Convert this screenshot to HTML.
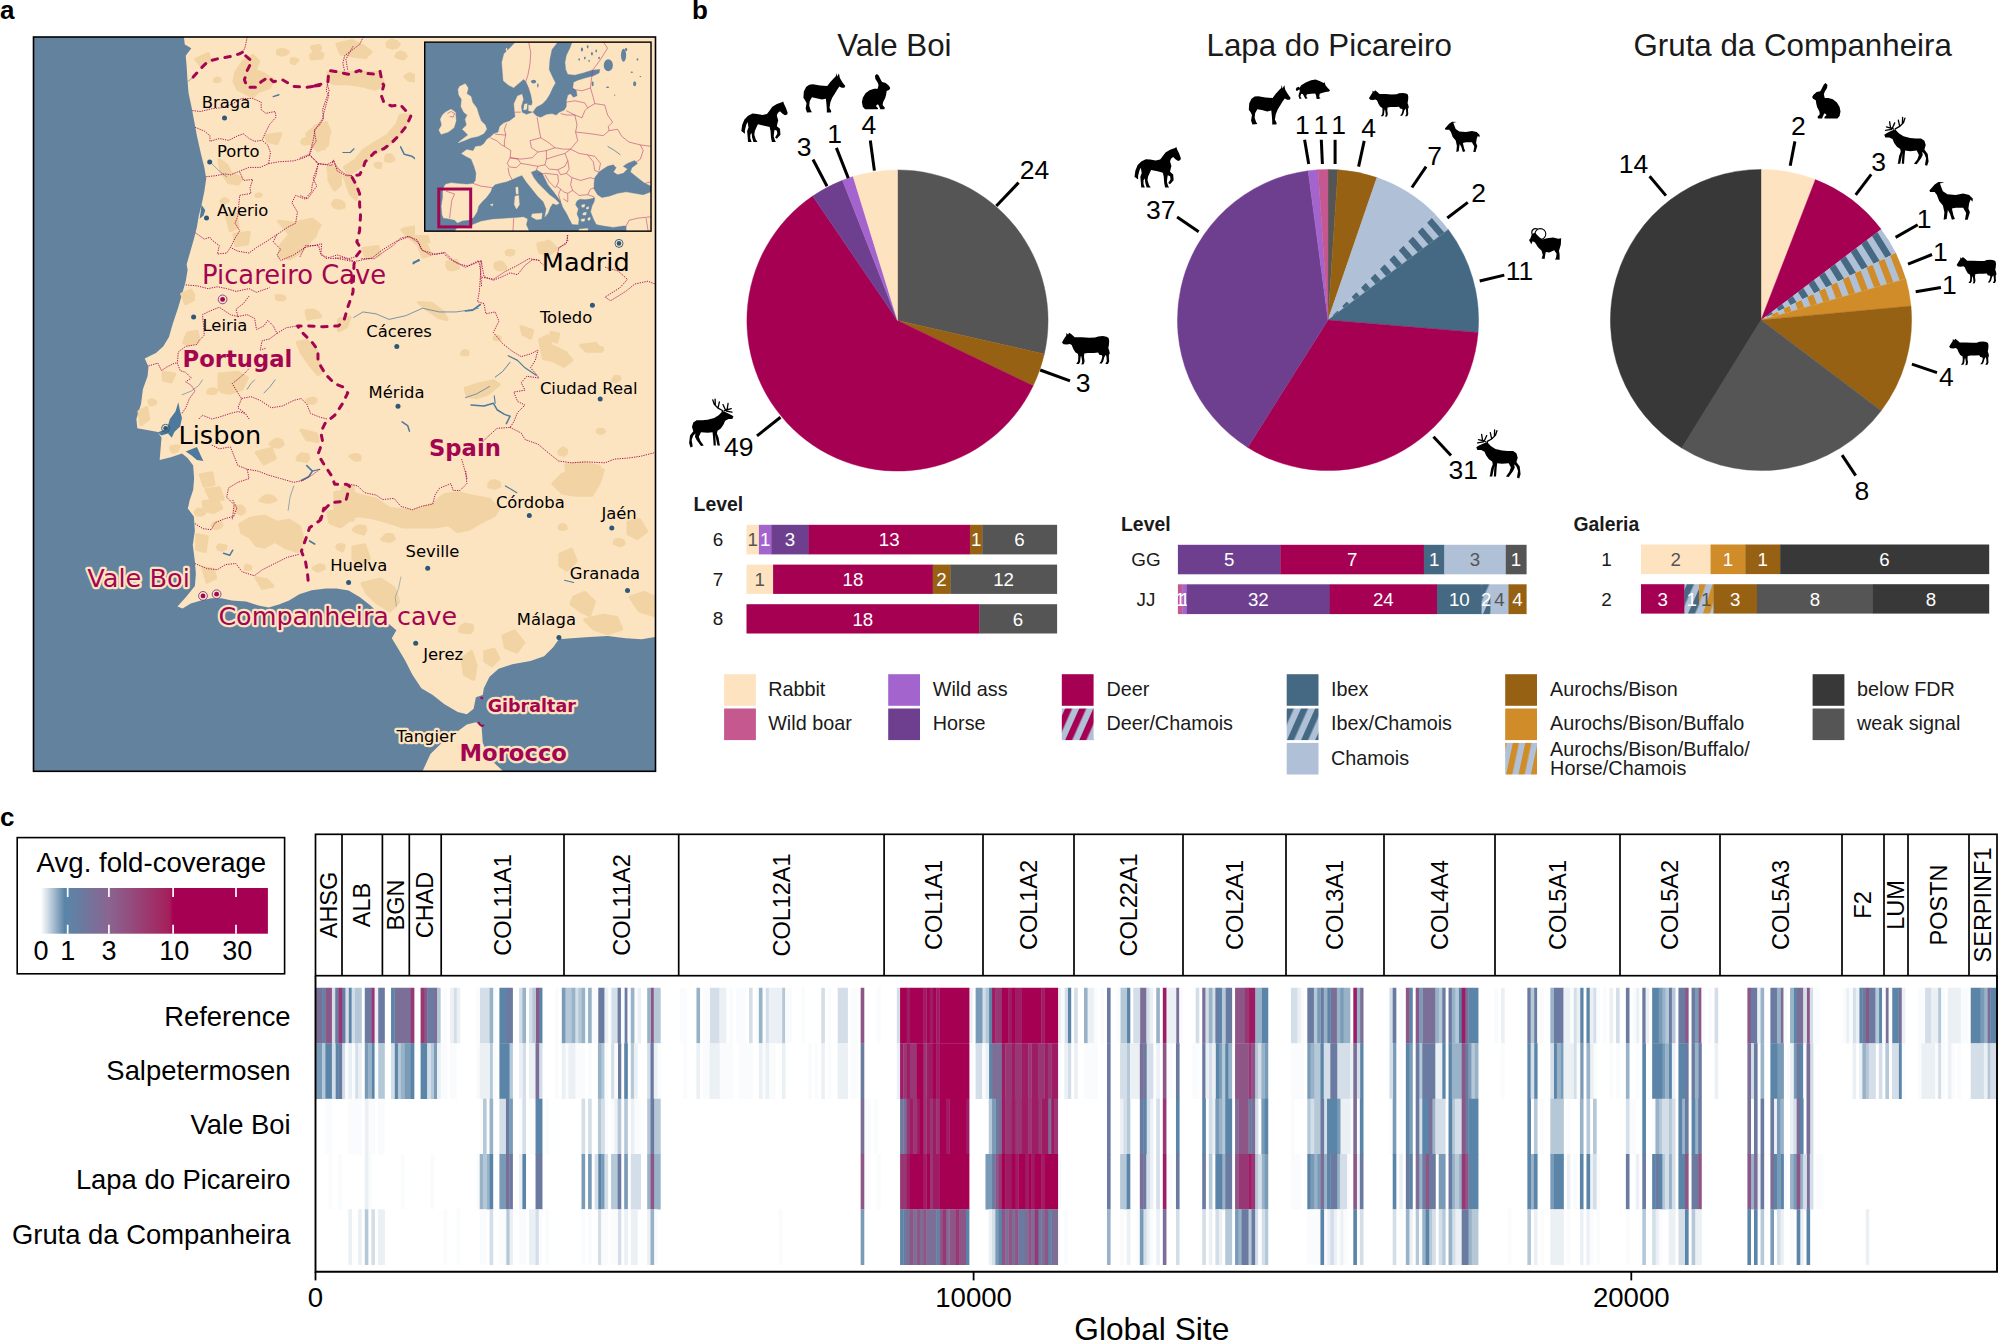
<!DOCTYPE html>
<html lang="en"><head><meta charset="utf-8"><title>Figure</title>
<style>html,body{margin:0;padding:0;background:#fff}svg{display:block}text{font-kerning:normal}</style></head>
<body><svg width="1999" height="1342" viewBox="0 0 1999 1342">
<rect width="1999" height="1342" fill="#fff"/>
<text x="0" y="19" font-size="26" font-weight="bold" font-family='"Liberation Sans", Arial, sans-serif'>a</text>
<text x="692" y="19" font-size="26" font-weight="bold" font-family='"Liberation Sans", Arial, sans-serif'>b</text>
<clipPath id="mapclip"><rect x="33.5" y="37" width="622" height="734.3"/></clipPath>
<g clip-path="url(#mapclip)">
<rect x="33.5" y="37" width="622" height="734.3" fill="#62829E"/>
<path d="M655.5 37L183.9 37L184.8 44.45L191.32 48.18L185.73 55.63L186.66 66.8L187.59 81.7L188.52 92.88L191.32 105.91L194.11 120.81L196.9 135.71L200.63 152.48L204.35 167.38L206.22 178.55L204.35 191.59L201.56 204.63L198.77 215.8L196.9 226.98L194.11 238.15L190.38 251.19L186.66 264.23L187.59 270L185.73 281.18L182 294.21L178.28 307.25L172.69 324.01L168.97 337.05L163.38 346.36L155.93 352.88L144.75 358.47L148.48 366.85L147.55 376.17L142.89 389.2L141.03 404.1L136.37 419L137.3 428.32L148.48 430.18L157.79 432.04L161.52 437.63L160.58 448.8L159.65 459.98L170.83 457.19L182 453.46L187.59 458.12L193.18 465.57L194.11 478.6L193.18 489.78L189.45 500.96L187.59 510.27L190.75 500L187.68 508.2L193.83 516.39L194.85 530.73L192.8 545.07L194.85 561.46L195.88 573.76L194.85 586.05L186.66 596.29L177.44 606.54L182.56 608.58L190.75 603.46L201 600.39L211.24 598.34L221.49 598.34L231.73 600.39L246.07 601.41L258.36 605.51L268.61 607.56L278.85 604.49L289.1 600.39L299.34 594.24L311.63 590.15L325.97 588.51L340.31 588.51L335 588.18L348.64 590.45L360 597.27L371.36 606.36L380.45 615.45L389.55 624.55L396.36 630.23L391.82 638.18L398.64 649.55L405.45 660.91L412.27 674.55L421.36 688.18L432.73 695L444.09 704.09L457.73 712.05L466.82 714.32L473.64 708.64L475.91 697.27L482.73 695L483.86 688.18L489.55 676.82L498.64 668.86L512.27 664.32L530.45 660.91L544.09 656.36L553.18 647.27L558.86 639.32L571.36 638.18L589.55 637.05L607.73 635.91L625.91 638.18L641.82 639.32L655 637.05L655.5 637Z" fill="#FDE4C0"/>
<path d="M422.5 771.14L430.45 754.09L441.82 742.73L457.73 731.36L466.82 724.55L475.91 722.27L481.59 726.82L482.73 742.73L489.55 758.64L503.18 771.14Z" fill="#FDE4C0"/>
<path d="M236.02 72.39L243.47 61.21L252.78 55.63L258.37 61.21L254.64 70.53L263.96 74.25L273.27 79.84L269.54 87.29L258.37 91.01L252.78 96.6L245.33 92.88L237.88 89.15L234.15 81.7ZM278.86 221.39L293.76 223.25L312.38 219.53L319.83 225.12L312.38 238.15L301.21 251.19L290.03 258.64L278.86 256.78L280.72 245.6L290.03 234.43ZM329.14 167.38L338.46 171.1L340.32 184.14L334.73 189.73L329.14 180.42ZM265.82 135.71L280.72 133.85L276.99 143.17L267.68 141.3ZM306.79 133.85L316.11 126.4L329.14 130.13L327.28 145.03L317.97 150.62L310.52 143.17ZM219.25 159.93L226.7 165.52L230.43 172.97L241.6 178.55L237.88 184.14L228.57 182.28L221.12 171.1ZM226.7 215.8L236.02 213.94L237.88 226.98L230.43 230.7ZM234.15 234.43L249.06 232.57L247.19 243.74L236.02 245.6ZM195.97 59.35L208.08 53.76L209.94 61.21L200.63 64.94ZM327.94 72.39L380.09 72.39L383.81 85.43L374.5 89.15L361.46 85.43L348.43 83.56L333.53 83.56L327.94 79.84ZM400.58 115.23L409.89 115.23L404.3 128.26L393.13 141.3L381.95 148.75L370.78 156.2L361.46 165.52L348.43 174.83L344.7 167.38L355.88 159.93L363.33 150.62L374.5 143.17L387.54 135.71L396.85 124.54ZM327.94 167.38L335.39 165.52L340.98 174.83L339.11 186L333.53 187.87L329.8 178.55ZM344.7 176.69L352.15 178.55L357.74 191.59L355.88 199.04L350.29 193.45ZM314.9 126.4L326.08 122.68L329.8 131.99L324.21 148.75L316.76 145.03ZM300 223.25L311.18 219.53L318.63 225.12L314.9 236.29L305.59 243.74L300 241.88ZM404.3 228.84L415.48 226.98L426.65 234.43L428.52 241.88L419.2 240.02L408.03 236.29ZM337.25 44.45L352.15 40.73L363.33 46.31L370.78 51.9L365.19 57.49L352.15 55.63L340.98 53.76ZM538.41 243.74L549.58 241.88L555.17 249.33L547.72 254.92L540.27 251.19ZM419.2 247.47L426.65 245.6L430.38 254.92L422.93 256.78ZM447.14 262.37L456.45 260.51L458.32 267.96L450.87 269.82ZM182 294.21L191.32 290.49L193.18 299.8L185.73 303.53ZM187.59 333.33L196.9 331.46L198.77 340.78L189.45 344.5L183.87 342.64ZM297.48 342.64L306.79 340.78L316.11 350.09L317.97 361.26L323.56 370.58L317.97 374.3L308.66 363.13L301.21 351.95ZM219.25 374.3L237.88 372.44L247.19 378.03L241.6 389.2L230.43 392.93L219.25 389.2ZM163.38 372.44L174.55 374.3L170.83 381.75L163.38 379.89ZM139.17 411.55L146.62 407.83L148.48 419L141.03 424.59ZM256.51 452.53L271.41 448.8L275.13 458.12L263.96 463.7ZM200.63 474.88L211.8 473.02L213.67 484.19L204.35 486.06ZM206.22 489.78L219.25 487.92L222.98 499.09L211.8 500.96ZM301.21 430.18L316.11 433.9L317.97 441.35L306.79 439.49ZM342.18 487.92L352.99 486.06L352.99 519.95L347.77 519.95L345.91 502.82ZM539.88 339.89L547.33 336.17L551.06 345.48L565.96 352.93L571.54 360.38L564.09 365.97L552.92 360.38L543.6 358.52ZM521.25 326.85L532.43 330.58L530.57 338.03L523.12 334.3ZM551.06 332.44L558.51 334.3L556.64 341.75L551.06 339.89ZM580.86 345.48L595.76 343.62L601.34 351.07L586.44 351.07ZM465.38 388.32L476.55 384.59L493.32 380.87L498.9 384.59L487.73 393.9L476.55 397.63L467.24 395.77ZM418.81 302.64L431.85 303.57L443.03 311.95L446.75 319.4L439.3 317.54L428.13 310.09ZM402.05 230L424.4 230L428.13 239.31L420.68 246.76L409.5 237.45ZM538.02 244.9L549.19 241.18L556.64 248.63L549.19 254.21L539.88 252.35ZM565.96 464.68L582.72 462.82L599.48 466.54L595.76 479.95L567.82 479.95ZM446.75 265.39L456.07 261.66L457.93 267.25L448.62 269.11ZM362.94 248.63L377.84 246.76L379.7 254.21L366.66 257.94ZM338.73 319.4L349.9 317.54L346.18 326.85L338.73 330.58ZM239.92 524.59L250.17 518.44L264.51 516.39L276.8 522.54L289.1 520.49L299.34 526.63L303.44 540.98L297.29 551.22L285 547.12L274.75 540.98L264.51 547.12L256.31 545.07L250.17 536.88L241.97 532.78ZM203.05 502.05L217.39 500L221.49 508.2L213.29 512.29L205.1 510.24ZM196.9 534.83L207.14 536.88L205.1 551.22L196.9 549.17ZM203.05 567.61L213.29 569.66L215.34 577.85L207.14 581.95ZM256.31 577.85L266.56 579.9L272.7 586.05L262.46 588.1ZM328.02 512.29L340.31 510.24L348.51 520.49L340.31 526.63L330.07 522.54ZM335 492.73L348.64 490.45L357.73 495L375.91 499.55L389.55 508.64L412.27 510.91L432.73 504.09L444.09 495L457.73 492.73L471.36 496.14L489.55 499.55L498.64 508.64L494.09 515.45L480.45 522.27L469.09 529.09L457.73 531.36L448.64 524.55L435 526.82L421.36 526.82L403.18 526.82L389.55 522.27L373.64 517.73L357.73 515.45L344.09 520L335 522.27ZM553.18 483.64L562.27 474.55L575.91 470L603.18 470L598.64 483.64L591.82 495L575.91 495L562.27 492.73ZM560 554.09L571.36 549.55L575.91 560.91L566.82 570L560 565.45ZM573.64 597.27L585 592.73L594.09 601.82L589.55 615.45L580.45 610.91L571.36 604.09ZM585 620L603.18 615.45L616.82 617.73L621.36 629.09L607.73 633.64L594.09 629.09ZM630.45 597.27L644.09 592.73L655 597.27L655 615.45L639.55 610.91ZM503.18 635.91L514.55 631.36L523.64 642.73L516.82 651.82L505.45 647.27ZM485 651.82L494.09 649.55L498.64 658.64L491.82 665.45L485 660.91ZM462.27 658.64L471.36 651.82L475.91 665.45L473.64 679.09L464.55 674.55ZM362.27 583.64L380.45 579.09L394.09 588.18L398.64 601.82L389.55 610.91L375.91 601.82L366.82 592.73ZM353.18 547.27L364.55 545L369.09 558.64L360 565.45L353.18 558.64ZM628.18 522.27L639.55 520L646.36 531.36L637.27 538.18L628.18 533.64ZM187.53 298.54L183.53 296.88L186.33 294.44L189.53 292.46L193.45 294.09L193.33 296.68L191.79 299.3ZM284.84 298.57L282.08 299.81L279.26 299.82L276.6 298.51L276.58 295.78L280.76 295.78L283.6 296.5ZM306.44 310.8L313.25 310.28L317.68 312.63L320.49 316.59L313.89 317.57L307.96 319.07L306.66 315.06ZM231.67 391.74L227.22 392.84L221.37 391.37L223.81 387.71L227.07 384.84L233.11 385.62L234.67 389.24ZM208.74 390.46L210.63 389.16L213.6 389.07L216.68 390.59L214.9 392.9L211.52 393.56L207.95 392.75ZM149.43 402.78L148.96 400.81L151.94 399.86L154.25 401.03L155.64 402.58L153.88 404.11L150.69 404.68ZM174.05 446.37L178.55 446.15L177.9 449L176.85 451.05L172.95 451.93L171.32 449.57L170.79 447.35ZM282.93 444.17L279.67 446.98L274.37 446.52L270.29 444.1L273.25 441.22L277.13 439.24L281.65 440.94ZM298.35 456.47L301.91 453.88L307.76 454.72L308.5 458.3L306.62 461.29L301.98 460.58L297.32 459.66ZM235.36 506.57L241.38 506.14L244.1 509.01L244.31 511.77L240.96 514.11L237.26 512.16L234.35 510.18ZM270.16 501.89L265.9 501.94L260.25 500.52L263.51 497.24L267.31 495.53L272.24 496.43L275.77 499.92ZM204.37 513.46L201.39 515.01L196.96 514.75L195.32 511.94L197.49 509.29L201.69 509.79L204.5 511.11ZM308.92 403.11L306.68 400.34L310.26 398.64L313.2 398.19L315.71 399.38L315.68 401.42L313.32 403.12ZM213.88 523.18L217 522.46L220.64 522.49L221.83 524.9L220.1 527.33L215.34 528.37L212.25 525.75ZM217.58 546.88L219.27 544.95L222.31 545.53L225.77 546.11L225.16 548.55L222.07 549.99L218.47 549.12ZM245.46 568.98L245.45 567.23L246.39 565.33L249.26 566.08L250.7 567.22L250.46 568.79L248.13 569.45ZM338.45 549.01L337 547.35L337.64 545.4L340.74 544.81L344.09 545.62L343.53 547.85L342.28 550.76ZM316.97 566.02L320 564.98L323.37 565.95L324.12 568.36L321.29 569.79L317.03 570.96L313.55 568.35ZM353.48 530L356.13 527.08L360.05 525.86L364.79 526.69L365.59 529.94L363.47 533.81L357.65 532.14ZM394.14 538.82L390.04 541.22L385.76 540.68L381.98 539.24L384.14 536.83L386.84 534.68L392.4 535.11ZM471.76 625.41L472.54 629.22L470.49 632.27L465.45 632.39L459.58 631.12L460.73 627.04L465.33 624.1ZM617.49 544.6L614.32 543.26L615.13 540.49L619.34 539.56L623.02 540.92L623.77 543.57L620.9 545.48ZM562.87 529.41L559.76 528.54L559.44 526.68L560.68 525.31L563.31 524.69L565.47 526.02L566.2 528.28ZM499.11 482.73L499.69 486.2L494.46 488.15L488.89 486.59L489.23 483.09L491.96 481.14L495.82 481ZM501.95 269.43L498.22 269.83L495.26 267.64L496.97 264.82L501.26 264.47L504.88 265.6L505.73 268.37ZM513.23 253.54L510.67 255L507.4 254.17L506.25 252.15L508.26 250.61L510.88 250.74L513.74 251.45ZM597.92 350.96L596.08 349.54L597.65 348.13L599.65 347.61L602.28 347.96L602.38 349.76L600.26 350.45ZM618.05 380.19L615.73 381.65L612.87 380.33L613.82 378.44L614.97 376.58L618.59 376.68L619.87 378.77ZM559.55 454L558.84 451.74L560.22 450.16L563.26 448.03L566.5 450.18L566.36 452.78L563.72 455.12ZM597.6 432.22L597.8 429.97L600.82 429.45L603.16 429.79L604.23 431.21L603 432.58L600.46 433.32ZM355.24 459.91L352.72 458.48L350.14 456.24L353.96 454.85L357.58 454.82L360.08 456.74L359.62 459.6ZM461.7 354.21L462.32 352.11L464.46 350.84L467.34 351.18L467.68 352.85L467.49 354.46L464.92 354.6ZM500.2 338.08L498.31 339.1L496.4 339.65L494.28 338.83L494.59 337.23L496.57 336.55L498.77 336.71ZM311.86 47.04L315.7 46.16L319.24 45.7L320.46 47.93L319.42 49.91L316.13 51.47L312.98 49.66ZM387.16 42.9L391.15 40.17L396.18 41.65L399.04 44.21L396.85 47.08L392.23 47.97L387.72 46.39ZM396.26 56.48L396.97 54.06L400.15 52.02L404.22 53.45L405.99 56.14L403.41 58.76L399.21 57.86ZM405.16 76.33L409.76 73.87L414.15 75.72L415.95 77.77L415.38 80.47L411.16 80.53L407.75 79.46ZM393.79 159.45L390.51 161.33L385.91 160.81L385.94 158.04L386.31 155.53L390.54 155.03L392.5 157.13ZM380.77 164.03L380.38 165.74L379.91 167.42L377.3 166.99L375.7 166L375.37 164.25L378.02 163.46ZM307.82 143.6L304.09 144L301.83 142.13L302.57 140.08L305.17 138.81L309.17 139.03L308.65 141.53ZM495.68 263.42L498.38 262.56L501.19 262.3L503.56 263.93L502.13 266.05L498.97 266.07L494.89 266ZM509.28 251.27L510.11 252.61L510.29 253.59L508.93 254.04L506.95 254.34L506.71 253.04L507.57 252.2ZM277.66 53.58L277.7 50.55L281.6 49.58L284.62 50.12L288.17 51.75L285.61 54.13L281.67 55.04ZM295.78 62.03L294.17 63.57L291.52 62.64L291.35 61.04L291.51 58.92L294.95 59.04L297.49 60.38ZM321.96 57.8L316.7 58.17L311.47 58.81L310.75 55.36L313.32 52.99L317.8 52.13L322.65 53.99ZM217.11 81.45L214.54 80.99L214.78 79.25L216.56 78.33L218.78 78.42L219.75 79.67L219.3 81.06ZM223.74 202.63L221.14 201.6L222.49 199.84L224.64 198.78L226.81 199.77L227.8 201.22L225.97 202.19ZM258.36 196.3L256.38 196.33L256.14 194.99L257.6 194.29L259.32 194.06L261.12 194.92L259.66 195.98ZM340.67 201.55L343.81 203.78L343.77 207.24L338.55 207.93L334.18 206.9L332.4 203.82L335.21 200.51Z" fill="#F2D3A3" stroke="#F2D3A3" stroke-width="3.5" stroke-linejoin="round"/>
<path d="M157.79 432.41L167.1 428.32L169.9 419L175.48 411.55L178.28 402.24L180.14 411.55L182 418.07L180.14 426.45L174.55 431.67L171.76 437.63L168.03 433.53L161.52 435.39Z" fill="#4D7A9C"/>
<path d="M185.73 451.6L196.9 446.94L201.56 457.19L203.42 460.91L196.9 459.98L191.32 455.32Z" fill="#4D7A9C"/>
<path d="M201.56 204.63L205.29 210.22L203.42 215.8L199.7 218.6L200.63 212.08Z" fill="#4D7A9C"/>
<path d="M353.63 317.54L362.94 311.95L375.98 313.81L389.01 319.4L405.78 315.68L422.54 308.23L439.3 311.95L456.07 311.95L469.1 310.09L478.42 308.23" fill="none" stroke="#4D7A9C" stroke-width="0.75" stroke-linecap="round" stroke-linejoin="round"/>
<path d="M465.38 311.02L472.83 310.09L480.28 304.5" fill="none" stroke="#4D7A9C" stroke-width="1.65" stroke-linecap="round" stroke-linejoin="round"/>
<path d="M508.22 355.72L517.53 360.38L524.98 367.83L536.15 375.28" fill="none" stroke="#4D7A9C" stroke-width="1.2" stroke-linecap="round" stroke-linejoin="round"/>
<path d="M510.08 362.24L502.63 371.55L495.18 377.14" fill="none" stroke="#4D7A9C" stroke-width="0.9" stroke-linecap="round" stroke-linejoin="round"/>
<path d="M465.38 397.63L476.55 393.9L489.59 386.45" fill="none" stroke="#4D7A9C" stroke-width="0.75" stroke-linecap="round" stroke-linejoin="round"/>
<path d="M470.97 405.08L484 406.01L493.32 403.22L497.04 409.74L504.49 414.39L510.08 416.25L506.35 423.7" fill="none" stroke="#4D7A9C" stroke-width="1.5" stroke-linecap="round" stroke-linejoin="round"/>
<path d="M494.25 395.77L495.18 403.22" fill="none" stroke="#4D7A9C" stroke-width="1.12" stroke-linecap="round" stroke-linejoin="round"/>
<path d="M413.23 263.53L418.81 259.8" fill="none" stroke="#4D7A9C" stroke-width="1.65" stroke-linecap="round" stroke-linejoin="round"/>
<path d="M402.05 421.84L407.64 425.57L409.5 431.15" fill="none" stroke="#4D7A9C" stroke-width="1.5" stroke-linecap="round" stroke-linejoin="round"/>
<path d="M306.79 465.57L312.38 471.15L308.66 476.74L301.21 480.47" fill="none" stroke="#4D7A9C" stroke-width="1.65" stroke-linecap="round" stroke-linejoin="round"/>
<path d="M312.38 471.15L319.83 469.29" fill="none" stroke="#4D7A9C" stroke-width="1.12" stroke-linecap="round" stroke-linejoin="round"/>
<path d="M293.76 486.06L290.03 497.23L288.17 510.27" fill="none" stroke="#4D7A9C" stroke-width="0.6" stroke-linecap="round" stroke-linejoin="round"/>
<path d="M182 394.79L191.32 391.07L198.77 385.48L202.49 379.89" fill="none" stroke="#4D7A9C" stroke-width="0.6" stroke-linecap="round" stroke-linejoin="round"/>
<path d="M247.19 389.2L250.92 383.62L254.64 379.89" fill="none" stroke="#4D7A9C" stroke-width="0.75" stroke-linecap="round" stroke-linejoin="round"/>
<path d="M263.96 392.93L269.54 387.34L275.13 379.89" fill="none" stroke="#4D7A9C" stroke-width="0.75" stroke-linecap="round" stroke-linejoin="round"/>
<path d="M400.58 146.89L404.3 154.34L411.75 156.2L419.2 161.79" fill="none" stroke="#4D7A9C" stroke-width="1.5" stroke-linecap="round" stroke-linejoin="round"/>
<path d="M413.62 262.37L419.2 260.51" fill="none" stroke="#4D7A9C" stroke-width="1.65" stroke-linecap="round" stroke-linejoin="round"/>
<path d="M342.84 152.48L350.29 152.48L354.01 148.75" fill="none" stroke="#4D7A9C" stroke-width="1.12" stroke-linecap="round" stroke-linejoin="round"/>
<path d="M187.59 81.7L196.9 74.25" fill="none" stroke="#4D7A9C" stroke-width="0.6" stroke-linecap="round" stroke-linejoin="round"/>
<path d="M209.94 161.79L219.25 171.1L226.7 176.69" fill="none" stroke="#4D7A9C" stroke-width="0.6" stroke-linecap="round" stroke-linejoin="round"/>
<path d="M273.27 96.6L278.86 94.74" fill="none" stroke="#4D7A9C" stroke-width="1.5" stroke-linecap="round" stroke-linejoin="round"/>
<path d="M505.45 485.91L516.82 492.73" fill="none" stroke="#4D7A9C" stroke-width="1.12" stroke-linecap="round" stroke-linejoin="round"/>
<path d="M396.36 606.36L395.23 597.27L398.64 588.18L400.91 576.82" fill="none" stroke="#4D7A9C" stroke-width="0.45" stroke-linecap="round" stroke-linejoin="round"/>
<path d="M564.55 580.23L573.64 582.5" fill="none" stroke="#4D7A9C" stroke-width="1.12" stroke-linecap="round" stroke-linejoin="round"/>
<path d="M223.53 553.27L229.68 555.32L232.75 550.19" fill="none" stroke="#4D7A9C" stroke-width="1.5" stroke-linecap="round" stroke-linejoin="round"/>
<path d="M309.58 540.98L314.7 544.05" fill="none" stroke="#4D7A9C" stroke-width="1.65" stroke-linecap="round" stroke-linejoin="round"/>
<path d="M192.25 110.57L200.63 111.5L211.8 108.71L221.12 107.78L232.29 104.05L241.6 98.46L252.78 98.46L261.16 102.19L261.16 109.64L265.82 113.36L275.13 111.5L276.06 117.09L269.54 124.54L264.89 133.85L262.09 140.37L267.68 145.03L270.47 152.48L268.61 163.65M195.04 127.33L204.35 131.06L209.94 135.71L209.94 141.3L219.25 138.51L228.57 140.37L237.88 135.71L243.47 133.85L249.06 138.51L254.64 141.3L262.09 140.37M206.22 176.69L215.53 175.76L224.84 173.9L230.43 174.83L239.74 171.1L249.06 167.38L260.23 167.38L268.61 163.65L278.86 161.79L293.76 160.86L303.07 158.07L309.59 155.27L312.38 146.89L316.11 141.3L314.24 130.13L319.83 124.54L323.56 118.95L322.63 109.64L326.35 98.46L329.14 91.01L327.28 83.56M239.74 172.03L243.47 180.42L252.78 179.48L249.99 187.87L250.92 193.45L239.74 195.32L238.81 204.63L237.88 215.8L235.09 223.25L239.74 230.7L235.09 238.15L230.43 247.47L226.7 253.06L217.39 253.99L219.25 245.6L211.8 240.02L209.94 237.22L204.35 239.09L195.04 232.57M309.59 155.27L317.97 163.65L327.28 164.58L333.8 160.86L336.59 167.38L345.91 174.83L352.99 175.76M317.97 163.65L316.11 174.83L312.38 184.14L311.45 191.59L304.93 199.04L295.62 195.32L291.89 202.77L297.48 212.08L295.62 223.25L288.17 226.98L276.99 234.43L265.82 241.88L256.51 247.47L249.06 253.06L237.88 251.19L230.43 247.47M276.99 234.43L273.27 241.88L280.72 249.33L276.99 254.92L280.72 260.51L293.76 254.92L304.93 247.47L321.69 243.74L320.76 254.92L331.01 258.64L342.18 257.71L352.99 260.51M247.19 37L245.33 46.31L243.47 50.97M352.99 46.31L345.91 59.35L347.77 70.53M185.73 284.9L196.9 285.83L208.08 288.63L217.39 286.76L226.7 288.63L236.02 291.42L249.06 288.63L256.51 292.35L269.54 287.69M249.06 296.08L243.47 303.53L236.02 309.11L237.88 316.56L230.43 314.7L219.25 307.25L209.94 310.98L202.49 314.7L203.42 324.01L204.35 335.19L198.77 340.78L196.9 344.5L185.73 346.36L178.28 351.95L177.35 363.13L180.14 370.58L185.73 372.44L191.32 378.03L185.73 381.75L191.32 385.48L195.04 391.07L189.45 398.52L185.73 407.83L182 413.42M237.88 316.56L247.19 314.7L254.64 318.43L256.51 329.6L263.96 325.88L267.68 320.29L273.27 325.88L276.99 333.33L269.54 338.91L262.09 340.78L260.23 350.09L265.82 348.23M276.99 333.33L286.31 327.74L297.48 325.88M148.48 365.92L157.79 363.13L161.52 370.58L167.1 366.85L174.55 363.13L177.35 363.13M249.06 368.71L241.6 376.17L232.29 383.62L237.88 392.93L241.6 398.52L237.88 407.83L245.33 413.42L249.06 419M241.6 398.52L250.92 396.65L260.23 400.38L271.41 407.83L282.58 405.97L293.76 400.38L301.21 398.52L306.79 404.1L310.52 413.42L319.83 417.14L327.28 419M198.77 419L202.49 415.28L211.8 419L219.25 417.14L230.43 413.42L237.88 411.55L245.33 413.42M211.8 445.08L219.25 448.8L230.43 446.94L234.15 456.25L237.88 465.57L247.19 469.29L258.37 471.15L267.68 474.88L280.72 478.6L293.76 482.33L303.07 480.47L312.38 474.88L319.83 469.29M247.19 469.29L249.06 478.6L237.88 482.33L228.57 487.92L226.7 497.23L234.15 504.68L232.29 519.95M363.33 37L359.6 44.45L344.7 55.63L342.84 63.08L344.7 71.46M327.94 81.7L326.08 91.01L328.87 94.74L324.21 111.5L322.35 118.95L314.9 130.13L313.04 141.3L309.31 154.34L300 158.07M309.31 154.34L318.63 163.65L331.66 165.52L333.53 159.93L337.25 171.1L346.56 175.76L351.22 175.76M318.63 163.65L313.04 178.55L316.76 186L307.45 199.04L300 195.32M300 256.78L305.59 245.6L318.63 245.6L320.49 253.06L326.08 258.64L337.25 254.92L348.43 258.64L355.88 256.78M361.46 258.64L374.5 258.64L381.95 253.06L393.13 245.6L400.58 238.15L408.03 236.29L417.34 240.02L421.07 249.33L430.38 254.92L443.42 253.06L449 258.64L460.18 264.23L467.63 266.09L478.8 260.51L480.67 271.68L481.6 286.95M481.6 277.27L493.7 279.13L504.88 271.68L516.06 266.09L529.09 258.64L540.27 260.51M568.21 232.57L566.34 243.74L558.89 247.47L557.03 256.78M335 257.94L353.63 261.66L372.25 257.94L381.56 250.49L396.46 241.18L409.5 236.52L418.81 243.04L422.54 250.49L435.58 254.21L444.89 252.35L454.2 261.66L465.38 267.25L474.69 263.53L481.21 260.73L480.28 278.43L479.35 291.46L477.48 301.71L484 303.57L485.87 313.81L495.18 311.95L498.9 321.26L493.32 332.44L502.63 343.62L511.94 351.07L521.25 356.65L530.57 353.86L538.02 350.13L535.22 360.38L530.57 367.83L537.09 375.28L538.95 378.07L526.84 376.21L521.25 382.73L524.98 390.18L513.8 392.04L517.53 401.35L524.98 405.08L517.53 412.53L513.8 421.84L510.08 427.43L497.04 428.36L487.73 436.74L480.28 444.19M481.21 260.73L484 276.56L493.32 280.29L502.63 276.56L510.08 272.84L517.53 274.7L524.98 265.39L532.43 259.8L538.02 259.8L543.6 265.39M558.51 248.63L567.82 241.18L566.89 231.86M605.07 267.25L618.11 270.98L627.42 279.36L619.97 287.74L605.07 297.05L610.66 300.78L625.56 291.46L634.87 284.01L647.91 281.22L654.99 284.01M510.08 427.43L521.25 433.02L524.98 439.54L538.02 444.19L549.19 453.51L558.51 460.96L571.54 462.82L586.44 461.89L605.07 462.82L614.38 459.09L627.42 458.16L640.46 456.3L654.99 452.57M461.65 459.09L465.38 472.13L467.24 479.95M194.85 563.51L207.14 568.63L217.39 569.66L225.58 564.54L235.83 563.51L241.97 571.71L254.27 575.8L262.46 569.66L274.75 563.51L287.05 557.37L299.34 554.29M194.85 523.56L203.05 528.68L211.24 529.71L215.34 522.54L225.58 518.44L233.78 516.39L236.85 508.2L232.75 500M346.36 483.64L357.73 485.91L364.55 492.73L375.91 495L382.73 499.55L394.09 498.41L400.91 506.36L412.27 509.77L421.36 506.36L432.73 504.09L435 495L439.55 488.18L450.91 483.64L453.18 490.45L460 490.45L466.82 483.64L465.68 470" fill="none" stroke="#A40550" stroke-width="0.9" stroke-dasharray="1.3 1.1" stroke-linejoin="round"/>
<path d="M193.18 77.04L200.63 68.66L208.08 61.21L219.25 58.42L230.43 56.56L239.74 53.76L244.4 50.97L245.33 55.63L251.85 61.21L247.19 70.53L244.4 79.84L247.19 87.29L256.51 87.29L261.16 81.7L268.61 77.04L273.27 81.7L282.58 79.84L293.76 86.36L306.79 87.29L319.83 85.43L311.18 86.36L324.21 83.56L327.94 81.7L328.87 70.53L335.39 71.46L348.43 74.25L359.6 70.53L365.19 73.32L376.36 74.25L380.09 71.46L381.95 81.7L383.81 85.43L381.02 94.74L383.81 102.19L391.26 105.91L400.58 104.98L410.82 116.16L406.17 126.4L398.71 135.71L391.26 143.17L383.81 148.75L374.5 152.48L365.19 161.79L363.33 167.38L359.6 174.83L351.22 175.76L355.88 184.14L359.6 193.45L359.6 204.63L360.53 215.8L359.6 230.7L356.81 241.88L361.46 249.33L355.88 256.78L354.01 264.23L352.99 292.35L347.77 307.25L344.04 320.29L338.46 325.88L323.56 326.81L308.66 325.88L297.48 325.88L303.07 333.33L312.38 342.64L317.97 350.09L317.97 361.26L325.42 374.3L334.73 383.62L344.04 387.34L347.77 392.93L342.18 404.1L334.73 415.28L325.42 422.73L320.76 432.04L322.63 441.35L317.97 454.39L323.56 463.7L331.01 474.88L334.73 484.19L345.91 484.19L349.63 486.06L345.91 500.96L331.01 502.82L323.56 510.27L320.76 519.95L323.92 508.2L319.83 520.49L309.58 527.66L306.51 536.88L301.39 551.22L305.49 561.46L307.53 573.76L308.56 585.02" fill="none" stroke="#A40550" stroke-width="3" stroke-dasharray="5.4 7.6" stroke-linejoin="round" stroke-linecap="round"/>
<path d="M480.5 697.5l2.5 1M478.5 722c1 3 3.5 5 5.5 3" fill="none" stroke="#A40550" stroke-width="2"/>
<circle cx="224.5" cy="118" r="2.5" fill="#2F5878"/>
<circle cx="209.7" cy="162" r="2.5" fill="#2F5878"/>
<circle cx="206.5" cy="218" r="2.5" fill="#2F5878"/>
<circle cx="193.6" cy="316.9" r="2.5" fill="#2F5878"/>
<circle cx="396.8" cy="346.6" r="2.5" fill="#2F5878"/>
<circle cx="398" cy="406.2" r="2.5" fill="#2F5878"/>
<circle cx="592.4" cy="305.2" r="2.5" fill="#2F5878"/>
<circle cx="600.2" cy="399.1" r="2.5" fill="#2F5878"/>
<circle cx="529.3" cy="515.5" r="2.5" fill="#2F5878"/>
<circle cx="611.8" cy="528" r="2.5" fill="#2F5878"/>
<circle cx="427.7" cy="568.2" r="2.5" fill="#2F5878"/>
<circle cx="348.6" cy="582.5" r="2.5" fill="#2F5878"/>
<circle cx="627.5" cy="590.5" r="2.5" fill="#2F5878"/>
<circle cx="558.9" cy="637.5" r="2.5" fill="#2F5878"/>
<circle cx="415.7" cy="643.2" r="2.5" fill="#2F5878"/>
<circle cx="619" cy="243.4" r="4" fill="none" stroke="#2F5878" stroke-width="0.9"/><circle cx="619" cy="243.4" r="2.3" fill="#2F5878"/>
<circle cx="165.6" cy="428.3" r="4" fill="none" stroke="#2F5878" stroke-width="0.9"/><circle cx="165.6" cy="428.3" r="2.3" fill="#2F5878"/>
<circle cx="222.6" cy="299.4" r="4.4" fill="#FDE4C0" stroke="#7A3C8C" stroke-width="0.9"/><circle cx="222.6" cy="299.4" r="2.4" fill="#A40550"/>
<circle cx="203" cy="595.9" r="4.4" fill="#FDE4C0" stroke="#7A3C8C" stroke-width="0.9"/><circle cx="203" cy="595.9" r="2.4" fill="#A40550"/>
<circle cx="216.6" cy="594.2" r="4.4" fill="#FDE4C0" stroke="#7A3C8C" stroke-width="0.9"/><circle cx="216.6" cy="594.2" r="2.4" fill="#A40550"/>
<text x="201.8" y="107.5" font-size="16.4" font-family='"DejaVu Sans", Verdana, sans-serif' fill="#000">Braga</text>
<text x="217" y="156.5" font-size="16.4" font-family='"DejaVu Sans", Verdana, sans-serif' fill="#000">Porto</text>
<text x="217" y="215.5" font-size="16.4" font-family='"DejaVu Sans", Verdana, sans-serif' fill="#000">Averio</text>
<text x="202.5" y="330.5" font-size="16.4" font-family='"DejaVu Sans", Verdana, sans-serif' fill="#000">Leiria</text>
<text x="366.3" y="336.5" font-size="16.4" font-family='"DejaVu Sans", Verdana, sans-serif' fill="#000">Cáceres</text>
<text x="368.5" y="398" font-size="16.4" font-family='"DejaVu Sans", Verdana, sans-serif' fill="#000">Mérida</text>
<text x="539.9" y="322.8" font-size="16.4" font-family='"DejaVu Sans", Verdana, sans-serif' fill="#000">Toledo</text>
<text x="539.9" y="393.9" font-size="16.4" font-family='"DejaVu Sans", Verdana, sans-serif' fill="#000">Ciudad Real</text>
<text x="495.9" y="507.5" font-size="16.4" font-family='"DejaVu Sans", Verdana, sans-serif' fill="#000">Córdoba</text>
<text x="601.4" y="518.9" font-size="16.4" font-family='"DejaVu Sans", Verdana, sans-serif' fill="#000">Jaén</text>
<text x="405.5" y="557" font-size="16.4" font-family='"DejaVu Sans", Verdana, sans-serif' fill="#000">Seville</text>
<text x="330.2" y="570.5" font-size="16.4" font-family='"DejaVu Sans", Verdana, sans-serif' fill="#000">Huelva</text>
<text x="569.8" y="578.6" font-size="16.4" font-family='"DejaVu Sans", Verdana, sans-serif' fill="#000">Granada</text>
<text x="516.8" y="625" font-size="16.4" font-family='"DejaVu Sans", Verdana, sans-serif' fill="#000">Málaga</text>
<text x="423.2" y="659.8" font-size="16.4" font-family='"DejaVu Sans", Verdana, sans-serif' fill="#000">Jerez</text>
<text x="396.4" y="742.3" font-size="16.4" font-family='"DejaVu Sans", Verdana, sans-serif' fill="#000" stroke="#FDE4C0" stroke-width="4.5" stroke-linejoin="round" paint-order="stroke">Tangier</text>
<text x="541.8" y="271" font-size="25.6" font-family='"DejaVu Sans", Verdana, sans-serif' fill="#000">Madrid</text>
<text x="178.5" y="444.1" font-size="25.6" font-family='"DejaVu Sans", Verdana, sans-serif' fill="#000">Lisbon</text>
<text x="202" y="283.9" font-size="25.8" font-family='"DejaVu Sans", Verdana, sans-serif' fill="#A40550">Picareiro Cave</text>
<text x="87.3" y="587.1" font-size="25.6" font-family='"DejaVu Sans", Verdana, sans-serif' fill="#A40550" stroke="#FDE4C0" stroke-width="4.5" stroke-linejoin="round" paint-order="stroke">Vale Boi</text>
<text x="218.4" y="625" font-size="25.4" font-family='"DejaVu Sans", Verdana, sans-serif' fill="#A40550" stroke="#FDE4C0" stroke-width="4.5" stroke-linejoin="round" paint-order="stroke">Companheira cave</text>
<text x="182.5" y="366.5" font-size="22.7" font-family='"DejaVu Sans", Verdana, sans-serif' fill="#A40550" font-weight="bold">Portugal</text>
<text x="429" y="455.7" font-size="22.7" font-family='"DejaVu Sans", Verdana, sans-serif' fill="#A40550" font-weight="bold">Spain</text>
<text x="487.7" y="712" font-size="17.5" font-family='"DejaVu Sans", Verdana, sans-serif' fill="#A40550" font-weight="bold" stroke="#FDE4C0" stroke-width="4.5" stroke-linejoin="round" paint-order="stroke">Gibraltar</text>
<text x="459.5" y="760.5" font-size="22.7" font-family='"DejaVu Sans", Verdana, sans-serif' fill="#A40550" font-weight="bold" stroke="#FDE4C0" stroke-width="4.5" stroke-linejoin="round" paint-order="stroke">Morocco</text>
<rect x="415" y="35" width="245" height="200" fill="#FDE4C0"/>
<g transform="translate(424 41) scale(0.14233)">
<clipPath id="inclip"><rect x="5" y="8" width="1590" height="1328"/></clipPath>
<g clip-path="url(#inclip)">
<rect x="5" y="8" width="1590" height="1328" fill="#FDE4C0"/>
<path d="M5 8L640 8L610 40L560 90L545 150L550 220L555 280L590 310L630 330L665 300L700 270L715 285L735 330L750 380L760 430L750 470L760 500L720 515L690 500L685 460L700 410L690 370L655 385L630 440L635 500L640 530L600 560L560 575L530 600L520 640L490 650L470 670L440 690L420 720L400 735L360 740L345 770L300 760L260 790L290 810L330 830L350 880L365 930L360 980L345 1000L300 1005L240 1000L190 995L150 1005L130 1040L130 1100L120 1160L125 1220L135 1245L170 1250L215 1260L235 1280L240 1300L215 1336L5 1336Z" fill="#62829E" stroke="#62829E" stroke-width="3" stroke-linejoin="round"/>
<path d="M940 8L1040 8L1025 50L1000 100L990 150L995 200L1010 235L1060 240L1120 225L1180 205L1235 200L1230 225L1190 245L1130 260L1080 275L1050 290L1045 330L1070 350L1075 385L1050 395L1030 370L1010 380L1000 420L1000 460L985 485L950 500L930 520L900 510L860 515L820 535L790 525L765 500L790 465L830 445L860 415L885 375L905 330L925 295L905 255L880 200L885 130L900 60Z" fill="#62829E" stroke="#62829E" stroke-width="3" stroke-linejoin="round"/>
<path d="M235 1280L270 1265L320 1260L350 1240L375 1200L385 1160L410 1130L440 1100L470 1060L480 1030L500 1010L540 1000L580 990L620 975L650 960L690 945L740 925L790 905L830 930L870 1010L910 1060L940 1100L960 1130L975 1170L1000 1210L1020 1250L1040 1290L1085 1292L1090 1250L1075 1215L1085 1180L1065 1150L1075 1125L1095 1112L1130 1115L1170 1110L1200 1100L1195 1130L1180 1160L1170 1200L1190 1250L1210 1290L1260 1300L1330 1310L1400 1300L1420 1300L1420 1336L740 1336L720 1290L730 1250L700 1235L640 1240L560 1245L480 1250L400 1265L340 1290L290 1300L240 1300Z" fill="#62829E" stroke="#62829E" stroke-width="3" stroke-linejoin="round"/>
<path d="M1195 1000L1200 960L1230 920L1260 900L1290 880L1330 870L1350 890L1330 920L1360 940L1400 930L1430 900L1400 880L1430 860L1480 840L1500 860L1460 890L1450 920L1500 960L1550 1000L1595 1020L1595 1060L1540 1080L1480 1070L1420 1060L1360 1070L1300 1090L1250 1100L1220 1080L1195 1040Z" fill="#62829E" stroke="#62829E" stroke-width="3" stroke-linejoin="round"/>
<path d="M690 945L720 990L760 1040L800 1090L840 1130L860 1180L850 1235L870 1210L885 1170L905 1140L930 1150L950 1140L920 1110L880 1080L840 1040L800 1000L770 960L750 920L790 905L740 900L690 920Z" fill="#FDE4C0" stroke="#FDE4C0" stroke-width="3" stroke-linejoin="round"/>
<path d="M250 320L290 300L310 330L300 370L330 390L340 430L370 470L385 520L400 560L430 590L440 620L420 650L380 670L330 680L280 700L240 715L270 690L310 660L290 640L270 620L300 590L290 550L305 520L280 500L260 460L265 410L245 380L240 340Z" fill="#FDE4C0" stroke="#FDE4C0" stroke-width="3" stroke-linejoin="round"/>
<path d="M150 500L190 480L220 500L225 560L210 610L170 640L120 655L105 625L125 590L115 550L130 520Z" fill="#FDE4C0" stroke="#FDE4C0" stroke-width="3" stroke-linejoin="round"/>
<path d="M760 1215L830 1210L825 1250L790 1255L755 1235Z" fill="#FDE4C0" stroke="#FDE4C0" stroke-width="3" stroke-linejoin="round"/>
<path d="M640 1090L665 1085L670 1150L650 1180L635 1150Z" fill="#FDE4C0" stroke="#FDE4C0" stroke-width="3" stroke-linejoin="round"/>
<path d="M645 1030L660 1025L662 1075L648 1075Z" fill="#FDE4C0" stroke="#FDE4C0" stroke-width="3" stroke-linejoin="round"/>
<path d="M465 1150L485 1145L480 1160Z" fill="#FDE4C0" stroke="#FDE4C0" stroke-width="3" stroke-linejoin="round"/>
<path d="M705 445L725 440L722 480L700 485Z" fill="#FDE4C0" stroke="#FDE4C0" stroke-width="3" stroke-linejoin="round"/>
<path d="M735 450L762 455L758 495L735 490Z" fill="#FDE4C0" stroke="#FDE4C0" stroke-width="3" stroke-linejoin="round"/>
<path d="M1108 1152L1130 1148L1127 1166L1110 1168Z" fill="#FDE4C0" stroke="#FDE4C0" stroke-width="3" stroke-linejoin="round"/>
<path d="M1118 1208L1140 1204L1137 1222L1116 1222Z" fill="#FDE4C0" stroke="#FDE4C0" stroke-width="3" stroke-linejoin="round"/>
<path d="M1143 1168L1157 1164L1155 1180L1141 1181Z" fill="#FDE4C0" stroke="#FDE4C0" stroke-width="3" stroke-linejoin="round"/>
<path d="M1104 1253L1130 1249L1126 1266L1106 1266Z" fill="#FDE4C0" stroke="#FDE4C0" stroke-width="3" stroke-linejoin="round"/>
<path d="M1152 1244L1168 1240L1166 1258L1152 1260Z" fill="#FDE4C0" stroke="#FDE4C0" stroke-width="3" stroke-linejoin="round"/>
<path d="M1090 1322L1150 1318L1152 1336L1090 1336Z" fill="#FDE4C0" stroke="#FDE4C0" stroke-width="3" stroke-linejoin="round"/>
<ellipse cx="1295" cy="170" rx="32" ry="42" fill="#62829E"/>
<ellipse cx="1402" cy="100" rx="18" ry="45" fill="#62829E"/>
<ellipse cx="770" cy="285" rx="18" ry="13" fill="#62829E"/>
<ellipse cx="800" cy="312" rx="5" ry="15" fill="#62829E"/>
<ellipse cx="1185" cy="300" rx="7" ry="18" fill="#62829E"/>
<ellipse cx="1480" cy="300" rx="11" ry="18" fill="#62829E"/>
<ellipse cx="1290" cy="325" rx="10" ry="6" fill="#62829E"/>
<ellipse cx="1110" cy="60" rx="8" ry="14" fill="#62829E"/>
<ellipse cx="1150" cy="40" rx="6" ry="12" fill="#62829E"/>
<ellipse cx="1180" cy="90" rx="7" ry="12" fill="#62829E"/>
<ellipse cx="1130" cy="120" rx="6" ry="10" fill="#62829E"/>
<ellipse cx="1210" cy="70" rx="6" ry="10" fill="#62829E"/>
<ellipse cx="1090" cy="130" rx="5" ry="9" fill="#62829E"/>
<ellipse cx="1230" cy="120" rx="6" ry="9" fill="#62829E"/>
<ellipse cx="1160" cy="140" rx="5" ry="8" fill="#62829E"/>
<ellipse cx="1460" cy="220" rx="8" ry="5" fill="#62829E"/>
<ellipse cx="1520" cy="250" rx="6" ry="4" fill="#62829E"/>
<ellipse cx="1340" cy="380" rx="5" ry="4" fill="#62829E"/>
<ellipse cx="1420" cy="60" rx="8" ry="12" fill="#62829E"/>
<ellipse cx="1500" cy="130" rx="6" ry="8" fill="#62829E"/>
<ellipse cx="580" cy="60" rx="5" ry="12" fill="#FDE4C0"/>
<ellipse cx="600" cy="120" rx="4" ry="10" fill="#FDE4C0"/>
<ellipse cx="570" cy="180" rx="4" ry="10" fill="#FDE4C0"/>
<ellipse cx="680" cy="200" rx="3" ry="12" fill="#FDE4C0"/>
<ellipse cx="640" cy="150" rx="3" ry="9" fill="#FDE4C0"/>
<path d="M1290 740L1340 770L1380 800" fill="none" stroke="#62829E" stroke-width="6"/>
<path d="M735 8L750 80L745 160L730 240L715 285M1260 8L1290 50L1240 130L1185 205M165 510L190 495L215 510L205 535L180 530M635 500L680 500M580 580L565 620L575 660M465 680L510 700L545 730L565 740M500 655L560 660L575 660L565 700L565 740M565 740L610 770L605 820M585 860L605 820L660 830L680 860L650 890L600 885L585 860M590 890L600 940L620 975M795 535L805 600L820 680M745 700L820 680M745 700L755 750L800 780M820 680L870 710L920 750M800 780L860 770L920 750M680 860L740 870L800 880L850 870L860 830L860 770M605 820L680 830L760 820L800 780M790 905L800 880M860 830L920 810L990 790L1030 760M920 750L980 760L1030 760M850 870L880 900L940 905L990 880L1010 840L990 790M1000 490L1060 520L1075 590L1065 640L1080 700L1030 760M1060 520L1110 540L1130 490M960 510L1000 520L1060 520M1000 430L1060 420L1130 435L1150 470L1130 490M1050 340L1110 350L1170 330M1185 205L1175 280L1170 330L1190 400L1200 440L1150 470M1200 440L1270 450L1290 520L1325 570L1295 600L1300 630M1065 640L1160 650L1260 665L1300 630L1360 620L1390 670L1440 710L1520 730L1540 770L1520 830L1490 850M1030 760L1090 790L1150 800M1150 800L1200 810L1240 860L1230 910M1150 800L1190 850L1200 910L1230 920M1010 840L1020 900L1000 930L1040 960L1100 980L1170 960L1200 970M800 940L850 930L900 935L940 940L945 990L930 1020L960 1040M850 940L880 990L920 1030L930 1020M940 905L960 940L1000 930M1040 960L1030 1010L1045 1050L1010 1070L980 1060L960 1040L945 1080L960 1130M1045 1050L1090 1085L1150 1080L1195 1095M1150 1080L1170 1040L1200 1030M980 1110L1010 1130L1010 1070M345 1000L400 1020L480 1030M155 1055L215 1075L195 1120L185 1200L180 1245M630 1245L625 1336M1420 1300L1440 1260L1500 1245L1595 1235M1560 1245L1575 1336M1520 730L1595 740M1550 1000L1595 990" fill="none" stroke="#B02C66" stroke-width="3.6" stroke-linejoin="round"/>
</g>
<rect x="104" y="1040" width="224" height="266" fill="none" stroke="#A40550" stroke-width="21"/>
<rect x="5" y="8" width="1590" height="1328" fill="none" stroke="#000" stroke-width="10"/>
</g>
</g>
<rect x="33.5" y="37" width="622" height="734.3" fill="none" stroke="#000" stroke-width="1.6"/>
<defs>
<pattern id="pIC2" width="13.2" height="13.2" patternUnits="userSpaceOnUse" patternTransform="translate(1328 320) rotate(49.3) translate(0 0)"><rect width="13.2" height="13.2" fill="#B0C0D6"/><rect width="13.2" height="6.6" fill="#456983"/></pattern>
<pattern id="pIC3" width="13.2" height="13.2" patternUnits="userSpaceOnUse" patternTransform="translate(1761 320) rotate(58.2) translate(0 0)"><rect width="13.2" height="13.2" fill="#B0C0D6"/><rect width="13.2" height="6.6" fill="#456983"/></pattern>
<pattern id="pAH3" width="13.2" height="13.2" patternUnits="userSpaceOnUse" patternTransform="translate(1761 320) rotate(68.8) translate(0 1.5)"><rect width="13.2" height="13.2" fill="#D08C28"/><rect width="13.2" height="6.6" fill="#B0C0D6"/></pattern>
<pattern id="pDCk" width="12.9" height="12.9" patternUnits="userSpaceOnUse" patternTransform="translate(1065.2 740) rotate(-66) translate(0 0)"><rect width="12.9" height="12.9" fill="#B0C0D6"/><rect width="12.9" height="6.45" fill="#A60053"/></pattern>
<pattern id="pICk" width="12.9" height="12.9" patternUnits="userSpaceOnUse" patternTransform="translate(1301.1 740) rotate(-66) translate(0 0)"><rect width="12.9" height="12.9" fill="#B0C0D6"/><rect width="12.9" height="6.45" fill="#456983"/></pattern>
<pattern id="pAHk" width="12.1" height="12.1" patternUnits="userSpaceOnUse" patternTransform="translate(1518.5 774.5) rotate(-78) translate(0 0)"><rect width="12.1" height="12.1" fill="#B0C0D6"/><rect width="12.1" height="6.05" fill="#D08C28"/></pattern>
<pattern id="pICb" width="12.9" height="12.9" patternUnits="userSpaceOnUse" patternTransform="translate(1483 614) rotate(-66) translate(0 0)"><rect width="12.9" height="12.9" fill="#B0C0D6"/><rect width="12.9" height="6.45" fill="#456983"/></pattern>
<pattern id="pICc" width="12.9" height="12.9" patternUnits="userSpaceOnUse" patternTransform="translate(1688 613.6) rotate(-66) translate(0 0)"><rect width="12.9" height="12.9" fill="#B0C0D6"/><rect width="12.9" height="6.45" fill="#456983"/></pattern>
<pattern id="pAHc" width="12.9" height="12.9" patternUnits="userSpaceOnUse" patternTransform="translate(1703 613.6) rotate(-72) translate(0 0)"><rect width="12.9" height="12.9" fill="#B0C0D6"/><rect width="12.9" height="6.45" fill="#D08C28"/></pattern>
</defs>
<text x="894.4" y="56" font-size="31.3" font-family='"Liberation Sans", Arial, sans-serif' text-anchor="middle" fill="#1a1a1a">Vale Boi</text>
<text x="1329.2" y="56" font-size="31.3" font-family='"Liberation Sans", Arial, sans-serif' text-anchor="middle" fill="#1a1a1a">Lapa do Picareiro</text>
<text x="1792.7" y="56" font-size="31.3" font-family='"Liberation Sans", Arial, sans-serif' text-anchor="middle" fill="#1a1a1a">Gruta da Companheira</text>
<path d="M897.5 320.5L897.5 169.9A150.6 150.6 0 0 1 1044.32 354.01Z" fill="#555555" stroke="#555555" stroke-width="0.4"/>
<path d="M897.5 320.5L1044.32 354.01A150.6 150.6 0 0 1 1033.19 385.84Z" fill="#976114" stroke="#976114" stroke-width="0.4"/>
<path d="M897.5 320.5L1033.19 385.84A150.6 150.6 0 1 1 812.66 196.07Z" fill="#A60053" stroke="#A60053" stroke-width="0.4"/>
<path d="M897.5 320.5L812.66 196.07A150.6 150.6 0 0 1 842.48 180.31Z" fill="#6F3F8F" stroke="#6F3F8F" stroke-width="0.4"/>
<path d="M897.5 320.5L842.48 180.31A150.6 150.6 0 0 1 853.11 176.59Z" fill="#A364CE" stroke="#A364CE" stroke-width="0.4"/>
<path d="M897.5 320.5L853.11 176.59A150.6 150.6 0 0 1 897.5 169.9Z" fill="#FEE3C0" stroke="#FEE3C0" stroke-width="0.4"/>
<line x1="996.3" y1="206" x2="1018.6" y2="182.6" stroke="#000" stroke-width="3"/>
<line x1="1040.2" y1="370" x2="1070" y2="380.8" stroke="#000" stroke-width="3"/>
<line x1="780.5" y1="417.3" x2="757" y2="435.9" stroke="#000" stroke-width="3"/>
<line x1="827" y1="186.3" x2="813" y2="159.5" stroke="#000" stroke-width="3"/>
<line x1="848.3" y1="178.1" x2="836.4" y2="147.9" stroke="#000" stroke-width="3"/>
<line x1="874.4" y1="170.6" x2="870.3" y2="140.5" stroke="#000" stroke-width="3"/>
<text x="1034.6" y="179" font-size="26.5" font-family='"Liberation Sans", Arial, sans-serif' text-anchor="middle">24</text>
<text x="1083" y="392.1" font-size="26.5" font-family='"Liberation Sans", Arial, sans-serif' text-anchor="middle">3</text>
<text x="738.8" y="456.2" font-size="26.5" font-family='"Liberation Sans", Arial, sans-serif' text-anchor="middle">49</text>
<text x="804.2" y="155.5" font-size="26.5" font-family='"Liberation Sans", Arial, sans-serif' text-anchor="middle">3</text>
<text x="834.5" y="142.5" font-size="26.5" font-family='"Liberation Sans", Arial, sans-serif' text-anchor="middle">1</text>
<text x="868.8" y="134.3" font-size="26.5" font-family='"Liberation Sans", Arial, sans-serif' text-anchor="middle">4</text>
<path d="M1328 320L1328 169.4A150.6 150.6 0 0 1 1337.95 169.73Z" fill="#555555" stroke="#555555" stroke-width="0.4"/>
<path d="M1328 320L1337.95 169.73A150.6 150.6 0 0 1 1376.9 177.56Z" fill="#976114" stroke="#976114" stroke-width="0.4"/>
<path d="M1328 320L1376.9 177.56A150.6 150.6 0 0 1 1435.37 214.39Z" fill="#B0C0D6" stroke="#B0C0D6" stroke-width="0.4"/>
<path d="M1328 320L1435.37 214.39A150.6 150.6 0 0 1 1448.36 229.48Z" fill="url(#pIC2)" />
<path d="M1328 320L1448.36 229.48A150.6 150.6 0 0 1 1478.09 332.44Z" fill="#456983" stroke="#456983" stroke-width="0.4"/>
<path d="M1328 320L1478.09 332.44A150.6 150.6 0 0 1 1247.73 447.42Z" fill="#A60053" stroke="#A60053" stroke-width="0.4"/>
<path d="M1328 320L1247.73 447.42A150.6 150.6 0 0 1 1308.14 170.72Z" fill="#6F3F8F" stroke="#6F3F8F" stroke-width="0.4"/>
<path d="M1328 320L1308.14 170.72A150.6 150.6 0 0 1 1318.05 169.73Z" fill="#A364CE" stroke="#A364CE" stroke-width="0.4"/>
<path d="M1328 320L1318.05 169.73A150.6 150.6 0 0 1 1328 169.4Z" fill="#C4588F" stroke="#C4588F" stroke-width="0.4"/>
<line x1="1335.1" y1="139.8" x2="1335.1" y2="164" stroke="#000" stroke-width="3"/>
<line x1="1364.2" y1="140.9" x2="1358.6" y2="166.6" stroke="#000" stroke-width="3"/>
<line x1="1426.1" y1="166.6" x2="1411.9" y2="187.5" stroke="#000" stroke-width="3"/>
<line x1="1467.8" y1="202.4" x2="1447.3" y2="218" stroke="#000" stroke-width="3"/>
<line x1="1504.3" y1="275.1" x2="1479.7" y2="281" stroke="#000" stroke-width="3"/>
<line x1="1433.5" y1="436.8" x2="1451" y2="455.5" stroke="#000" stroke-width="3"/>
<line x1="1177.1" y1="216.9" x2="1198.7" y2="231.8" stroke="#000" stroke-width="3"/>
<line x1="1304.6" y1="139.8" x2="1308.7" y2="164" stroke="#000" stroke-width="3"/>
<line x1="1321.3" y1="139.8" x2="1322.4" y2="164" stroke="#000" stroke-width="3"/>
<text x="1338.5" y="134.3" font-size="26.5" font-family='"Liberation Sans", Arial, sans-serif' text-anchor="middle">1</text>
<text x="1368.5" y="136.9" font-size="26.5" font-family='"Liberation Sans", Arial, sans-serif' text-anchor="middle">4</text>
<text x="1434.6" y="164.9" font-size="26.5" font-family='"Liberation Sans", Arial, sans-serif' text-anchor="middle">7</text>
<text x="1478.6" y="202.2" font-size="26.5" font-family='"Liberation Sans", Arial, sans-serif' text-anchor="middle">2</text>
<text x="1519.5" y="279.7" font-size="26.5" font-family='"Liberation Sans", Arial, sans-serif' text-anchor="middle">11</text>
<text x="1463.2" y="479.1" font-size="26.5" font-family='"Liberation Sans", Arial, sans-serif' text-anchor="middle">31</text>
<text x="1160.7" y="218.9" font-size="26.5" font-family='"Liberation Sans", Arial, sans-serif' text-anchor="middle">37</text>
<text x="1302.3" y="134.3" font-size="26.5" font-family='"Liberation Sans", Arial, sans-serif' text-anchor="middle">1</text>
<text x="1320.8" y="134.3" font-size="26.5" font-family='"Liberation Sans", Arial, sans-serif' text-anchor="middle">1</text>
<path d="M1761 320L1761 169.4A150.6 150.6 0 0 1 1815.4 179.57Z" fill="#FEE3C0" stroke="#FEE3C0" stroke-width="0.4"/>
<path d="M1761 320L1815.4 179.57A150.6 150.6 0 0 1 1881.18 229.24Z" fill="#A60053" stroke="#A60053" stroke-width="0.4"/>
<path d="M1761 320L1881.18 229.24A150.6 150.6 0 0 1 1895.81 252.87Z" fill="url(#pIC3)" />
<path d="M1761 320L1895.81 252.87A150.6 150.6 0 0 1 1905.85 278.79Z" fill="url(#pAH3)" />
<path d="M1761 320L1905.85 278.79A150.6 150.6 0 0 1 1910.96 306.1Z" fill="#D08C28" stroke="#D08C28" stroke-width="0.4"/>
<path d="M1761 320L1910.96 306.1A150.6 150.6 0 0 1 1881.18 410.76Z" fill="#976114" stroke="#976114" stroke-width="0.4"/>
<path d="M1761 320L1881.18 410.76A150.6 150.6 0 0 1 1681.72 448.04Z" fill="#555555" stroke="#555555" stroke-width="0.4"/>
<path d="M1761 320L1681.72 448.04A150.6 150.6 0 0 1 1761 169.4Z" fill="#383838" stroke="#383838" stroke-width="0.4"/>
<line x1="1794.9" y1="141.4" x2="1790.2" y2="165.8" stroke="#000" stroke-width="3"/>
<line x1="1871.2" y1="174.3" x2="1855.7" y2="194.8" stroke="#000" stroke-width="3"/>
<line x1="1917.7" y1="224.7" x2="1895.6" y2="237.4" stroke="#000" stroke-width="3"/>
<line x1="1932" y1="254.5" x2="1908" y2="264.2" stroke="#000" stroke-width="3"/>
<line x1="1940.9" y1="287.4" x2="1915.7" y2="291.7" stroke="#000" stroke-width="3"/>
<line x1="1937" y1="372.6" x2="1911.9" y2="364.1" stroke="#000" stroke-width="3"/>
<line x1="1855.7" y1="475.7" x2="1842.1" y2="455.1" stroke="#000" stroke-width="3"/>
<line x1="1649.6" y1="176.2" x2="1665.9" y2="195.6" stroke="#000" stroke-width="3"/>
<text x="1798.3" y="135.3" font-size="26.5" font-family='"Liberation Sans", Arial, sans-serif' text-anchor="middle">2</text>
<text x="1878.5" y="171.3" font-size="26.5" font-family='"Liberation Sans", Arial, sans-serif' text-anchor="middle">3</text>
<text x="1924" y="227.5" font-size="26.5" font-family='"Liberation Sans", Arial, sans-serif' text-anchor="middle">1</text>
<text x="1940.3" y="261.2" font-size="26.5" font-family='"Liberation Sans", Arial, sans-serif' text-anchor="middle">1</text>
<text x="1949.3" y="294.1" font-size="26.5" font-family='"Liberation Sans", Arial, sans-serif' text-anchor="middle">1</text>
<text x="1946.3" y="385.5" font-size="26.5" font-family='"Liberation Sans", Arial, sans-serif' text-anchor="middle">4</text>
<text x="1861.8" y="499.8" font-size="26.5" font-family='"Liberation Sans", Arial, sans-serif' text-anchor="middle">8</text>
<text x="1633.5" y="173.3" font-size="26.5" font-family='"Liberation Sans", Arial, sans-serif' text-anchor="middle">14</text>
<g transform="translate(741.3 101.4) scale(0.09 0.09) translate(-125 -460)"><path d="M590 460L600 490L620 530L640 585L635 605L610 615L580 595L555 570L530 590L520 620L535 670L525 710L520 735L555 765L560 830L520 875L500 860L525 820L520 785L495 775L490 800L485 850L500 895L510 910L465 910L455 860L450 790L440 745L380 730L310 715L295 745L275 790L270 830L285 880L305 910L260 910L245 860L240 810L225 830L225 870L240 910L200 910L195 850L190 790L205 750L195 690L180 720L165 780L165 820L125 790L135 720L160 660L200 620L250 595L300 600L360 610L410 600L440 560L470 520L520 490L575 470Z" fill="#000"/></g>
<g transform="translate(803.4 73) scale(0.09 0.09) translate(-815 -145)"><path d="M1180 145L1190 185L1210 150L1220 200L1250 250L1280 290L1270 310L1240 310L1215 295L1190 330L1160 380L1135 420L1115 470L1105 530L1125 570L1120 585L1075 585L1075 540L1070 480L1065 430L1020 440L960 425L910 415L885 460L880 510L895 555L910 580L855 585L840 540L850 480L835 450L815 420L820 350L845 300L880 275L920 270L1000 285L1080 290L1110 250L1150 205L1175 180Z" fill="#000"/></g>
<g transform="translate(861.9 74) scale(0.09 0.09) translate(-1465 -155)"><path d="M1630 155L1650 170L1680 230L1690 245L1730 255L1765 285L1780 310L1770 330L1740 345L1735 380L1725 420L1700 470L1695 500L1720 530L1715 548L1670 548L1650 500L1640 490L1620 510L1645 535L1640 548L1500 548L1475 520L1465 470L1475 420L1505 370L1550 335L1600 320L1640 320L1650 280L1640 250L1615 210L1610 175Z" fill="#000"/></g>
<g transform="translate(1061.8 332.8) scale(0.06 0.06) translate(-365 -215)"><path d="M440 220L470 245L490 215L530 245L580 290L700 290L820 298L920 295L970 275L1050 270L1110 280L1145 300L1155 350L1150 420L1140 470L1155 510L1165 560L1150 580L1150 640L1155 690L1135 735L1090 735L1115 690L1110 620L1100 580L1075 620L1055 690L1030 725L990 725L1020 685L1040 620L1035 590L990 580L970 545L900 550L800 550L740 560L735 620L745 690L730 740L690 745L705 700L695 630L685 595L675 640L670 700L650 735L605 735L635 690L640 620L635 570L590 540L555 480L530 420L500 400L450 410L395 405L368 375L400 320L440 260Z" fill="#000"/></g>
<g transform="translate(688.9 398.2) scale(0.11 0.11) translate(-80 -700)"><path d="M485 865L475 890L440 890L410 905L395 940L370 975L340 995L335 1020L350 1060L360 1120L365 1130L340 1130L325 1060L320 1030L325 1130L305 1130L300 1060L295 1010L250 1015L190 1010L170 1050L185 1090L215 1130L190 1135L150 1080L135 1050L140 1020L120 1040L105 1080L115 1140L95 1148L82 1110L90 1040L120 1000L108 960L120 920L150 900L200 900L250 895L310 880L350 855L375 830L380 815L420 830L460 850Z" fill="#000"/><path d="M385 812L345 790L310 755L297 715M320 762L318 708M345 788L357 733M400 815L428 800L436 748M412 808L390 758M428 805L465 795M420 817L472 826" fill="none" stroke="#000" stroke-width="12" stroke-linecap="round"/></g>
<g transform="translate(1134.5 147) scale(0.09 0.09) translate(-125 -460)"><path d="M590 460L600 490L620 530L640 585L635 605L610 615L580 595L555 570L530 590L520 620L535 670L525 710L520 735L555 765L560 830L520 875L500 860L525 820L520 785L495 775L490 800L485 850L500 895L510 910L465 910L455 860L450 790L440 745L380 730L310 715L295 745L275 790L270 830L285 880L305 910L260 910L245 860L240 810L225 830L225 870L240 910L200 910L195 850L190 790L205 750L195 690L180 720L165 780L165 820L125 790L135 720L160 660L200 620L250 595L300 600L360 610L410 600L440 560L470 520L520 490L575 470Z" fill="#000"/></g>
<g transform="translate(1248.8 84.9) scale(0.09 0.09) translate(-815 -145)"><path d="M1180 145L1190 185L1210 150L1220 200L1250 250L1280 290L1270 310L1240 310L1215 295L1190 330L1160 380L1135 420L1115 470L1105 530L1125 570L1120 585L1075 585L1075 540L1070 480L1065 430L1020 440L960 425L910 415L885 460L880 510L895 555L910 580L855 585L840 540L850 480L835 450L815 420L820 350L845 300L880 275L920 270L1000 285L1080 290L1110 250L1150 205L1175 180Z" fill="#000"/></g>
<g transform="translate(1295.8 79) scale(0.09 0.09) translate(-620 -100)"><path d="M620 215L630 195L655 185L660 200L680 170L730 140L790 115L840 105L890 125L930 145L940 135L950 170L975 200L1000 225L990 240L950 245L910 255L885 265L880 300L895 315L870 322L850 320L845 280L835 260L790 265L745 270L735 290L750 318L725 320L710 290L700 270L680 265L670 295L685 320L660 320L650 290L655 260L665 240L660 215L640 230L625 230Z" fill="#000"/></g>
<g transform="translate(1368.8 90.3) scale(0.05 0.05) translate(-365 -215)"><path d="M440 220L470 245L490 215L530 245L580 290L700 290L820 298L920 295L970 275L1050 270L1110 280L1145 300L1155 350L1150 420L1140 470L1155 510L1165 560L1150 580L1150 640L1155 690L1135 735L1090 735L1115 690L1110 620L1100 580L1075 620L1055 690L1030 725L990 725L1020 685L1040 620L1035 590L990 580L970 545L900 550L800 550L740 560L735 620L745 690L730 740L690 745L705 700L695 630L685 595L675 640L670 700L650 735L605 735L635 690L640 620L635 570L590 540L555 480L530 420L500 400L450 410L395 405L368 375L400 320L440 260Z" fill="#000"/></g>
<g transform="translate(1444.9 121.3) scale(0.12 0.12) translate(-125 -95)"><path d="M225 100L195 108L205 135L215 160L245 180L300 185L350 175L390 185L415 210L412 230L400 215L390 240L385 275L395 300L380 350L362 350L370 305L350 270L300 270L275 275L285 320L295 345L275 350L262 310L248 285L240 345L220 350L225 300L215 255L190 225L175 185L160 165L130 165L125 155L160 115L185 98Z" fill="#000"/></g>
<g transform="translate(1528.4 228) scale(0.12 0.12) translate(-825 -990)"><path d="M840 1080L830 1090L850 1125L860 1100L880 1110L905 1150L935 1180L945 1215L935 1245L960 1248L965 1215L970 1190L1000 1195L1040 1175L1060 1205L1055 1240L1045 1252L1085 1255L1085 1210L1080 1180L1095 1130L1098 1075L1075 1080L1030 1070L980 1075L940 1085L910 1060L880 1030L855 1040Z" fill="#000"/><ellipse cx="925" cy="1040" rx="45" ry="45" fill="none" stroke="#000" stroke-width="9"/><path d="M860 1050C840 1010 870 985 905 1000" fill="none" stroke="#000" stroke-width="10"/></g>
<g transform="translate(1520.8 429.1) scale(-0.11 0.11) translate(-80 -700)"><path d="M485 865L475 890L440 890L410 905L395 940L370 975L340 995L335 1020L350 1060L360 1120L365 1130L340 1130L325 1060L320 1030L325 1130L305 1130L300 1060L295 1010L250 1015L190 1010L170 1050L185 1090L215 1130L190 1135L150 1080L135 1050L140 1020L120 1040L105 1080L115 1140L95 1148L82 1110L90 1040L120 1000L108 960L120 920L150 900L200 900L250 895L310 880L350 855L375 830L380 815L420 830L460 850Z" fill="#000"/><path d="M385 812L345 790L310 755L297 715M320 762L318 708M345 788L357 733M400 815L428 800L436 748M412 808L390 758M428 805L465 795M420 817L472 826" fill="none" stroke="#000" stroke-width="12" stroke-linecap="round"/></g>
<g transform="translate(1840.5 83.1) scale(-0.09 0.09) translate(-1465 -155)"><path d="M1630 155L1650 170L1680 230L1690 245L1730 255L1765 285L1780 310L1770 330L1740 345L1735 380L1725 420L1700 470L1695 500L1720 530L1715 548L1670 548L1650 500L1640 490L1620 510L1645 535L1640 548L1500 548L1475 520L1465 470L1475 420L1505 370L1550 335L1600 320L1640 320L1650 280L1640 250L1615 210L1610 175Z" fill="#000"/></g>
<g transform="translate(1928.8 116.5) scale(-0.11 0.11) translate(-80 -700)"><path d="M485 865L475 890L440 890L410 905L395 940L370 975L340 995L335 1020L350 1060L360 1120L365 1130L340 1130L325 1060L320 1030L325 1130L305 1130L300 1060L295 1010L250 1015L190 1010L170 1050L185 1090L215 1130L190 1135L150 1080L135 1050L140 1020L120 1040L105 1080L115 1140L95 1148L82 1110L90 1040L120 1000L108 960L120 920L150 900L200 900L250 895L310 880L350 855L375 830L380 815L420 830L460 850Z" fill="#000"/><path d="M385 812L345 790L310 755L297 715M320 762L318 708M345 788L357 733M400 815L428 800L436 748M412 808L390 758M428 805L465 795M420 817L472 826" fill="none" stroke="#000" stroke-width="12" stroke-linecap="round"/></g>
<g transform="translate(1929.4 181.5) scale(0.15 0.15) translate(-125 -95)"><path d="M225 100L195 108L205 135L215 160L245 180L300 185L350 175L390 185L415 210L412 230L400 215L390 240L385 275L395 300L380 350L362 350L370 305L350 270L300 270L275 275L285 320L295 345L275 350L262 310L248 285L240 345L220 350L225 300L215 255L190 225L175 185L160 165L130 165L125 155L160 115L185 98Z" fill="#000"/></g>
<g transform="translate(1956.5 256.9) scale(0.05 0.05) translate(-365 -215)"><path d="M440 220L470 245L490 215L530 245L580 290L700 290L820 298L920 295L970 275L1050 270L1110 280L1145 300L1155 350L1150 420L1140 470L1155 510L1165 560L1150 580L1150 640L1155 690L1135 735L1090 735L1115 690L1110 620L1100 580L1075 620L1055 690L1030 725L990 725L1020 685L1040 620L1035 590L990 580L970 545L900 550L800 550L740 560L735 620L745 690L730 740L690 745L705 700L695 630L685 595L675 640L670 700L650 735L605 735L635 690L640 620L635 570L590 540L555 480L530 420L500 400L450 410L395 405L368 375L400 320L440 260Z" fill="#000"/></g>
<g transform="translate(1949 338.7) scale(0.05 0.05) translate(-365 -215)"><path d="M440 220L470 245L490 215L530 245L580 290L700 290L820 298L920 295L970 275L1050 270L1110 280L1145 300L1155 350L1150 420L1140 470L1155 510L1165 560L1150 580L1150 640L1155 690L1135 735L1090 735L1115 690L1110 620L1100 580L1075 620L1055 690L1030 725L990 725L1020 685L1040 620L1035 590L990 580L970 545L900 550L800 550L740 560L735 620L745 690L730 740L690 745L705 700L695 630L685 595L675 640L670 700L650 735L605 735L635 690L640 620L635 570L590 540L555 480L530 420L500 400L450 410L395 405L368 375L400 320L440 260Z" fill="#000"/></g>
<text x="693.6" y="511" font-size="19.4" font-weight="bold" font-family='"Liberation Sans", Arial, sans-serif' fill="#1a1a1a">Level</text>
<text x="718" y="546.3" font-size="18.9" font-family='"Liberation Sans", Arial, sans-serif' text-anchor="middle" fill="#1a1a1a">6</text>
<text x="718" y="585.8" font-size="18.9" font-family='"Liberation Sans", Arial, sans-serif' text-anchor="middle" fill="#1a1a1a">7</text>
<text x="718" y="625.4" font-size="18.9" font-family='"Liberation Sans", Arial, sans-serif' text-anchor="middle" fill="#1a1a1a">8</text>
<rect x="746.5" y="524.8" width="12.71" height="29.6" fill="#FEE3C0"/>
<text x="752.71" y="546.3" font-size="18.7" font-family='"Liberation Sans", Arial, sans-serif' text-anchor="middle" fill="#555555">1</text>
<rect x="758.91" y="524.8" width="12.71" height="29.6" fill="#A364CE"/>
<text x="765.12" y="546.3" font-size="18.7" font-family='"Liberation Sans", Arial, sans-serif' text-anchor="middle" fill="#ffffff">1</text>
<rect x="771.32" y="524.8" width="37.54" height="29.6" fill="#6F3F8F"/>
<text x="789.94" y="546.3" font-size="18.7" font-family='"Liberation Sans", Arial, sans-serif' text-anchor="middle" fill="#ffffff">3</text>
<rect x="808.56" y="524.8" width="161.66" height="29.6" fill="#A60053"/>
<text x="889.24" y="546.3" font-size="18.7" font-family='"Liberation Sans", Arial, sans-serif' text-anchor="middle" fill="#ffffff">13</text>
<rect x="969.92" y="524.8" width="12.71" height="29.6" fill="#976114"/>
<text x="976.12" y="546.3" font-size="18.7" font-family='"Liberation Sans", Arial, sans-serif' text-anchor="middle" fill="#ffffff">1</text>
<rect x="982.33" y="524.8" width="74.77" height="29.6" fill="#555555"/>
<text x="1019.56" y="546.3" font-size="18.7" font-family='"Liberation Sans", Arial, sans-serif' text-anchor="middle" fill="#ffffff">6</text>
<rect x="746.5" y="564.6" width="26.9" height="29.3" fill="#FEE3C0"/>
<text x="759.8" y="585.95" font-size="18.7" font-family='"Liberation Sans", Arial, sans-serif' text-anchor="middle" fill="#555555">1</text>
<rect x="773.1" y="564.6" width="159.88" height="29.3" fill="#A60053"/>
<text x="852.89" y="585.95" font-size="18.7" font-family='"Liberation Sans", Arial, sans-serif' text-anchor="middle" fill="#ffffff">18</text>
<rect x="932.68" y="564.6" width="18.03" height="29.3" fill="#976114"/>
<text x="941.55" y="585.95" font-size="18.7" font-family='"Liberation Sans", Arial, sans-serif' text-anchor="middle" fill="#ffffff">2</text>
<rect x="950.41" y="564.6" width="106.69" height="29.3" fill="#555555"/>
<text x="1003.61" y="585.95" font-size="18.7" font-family='"Liberation Sans", Arial, sans-serif' text-anchor="middle" fill="#ffffff">12</text>
<rect x="746.5" y="604.2" width="233.02" height="29.3" fill="#A60053"/>
<text x="862.86" y="625.55" font-size="18.7" font-family='"Liberation Sans", Arial, sans-serif' text-anchor="middle" fill="#ffffff">18</text>
<rect x="979.22" y="604.2" width="77.87" height="29.3" fill="#555555"/>
<text x="1018.01" y="625.55" font-size="18.7" font-family='"Liberation Sans", Arial, sans-serif' text-anchor="middle" fill="#ffffff">6</text>
<text x="1121" y="531" font-size="19.4" font-weight="bold" font-family='"Liberation Sans", Arial, sans-serif' fill="#1a1a1a">Level</text>
<text x="1146" y="566" font-size="18.9" font-family='"Liberation Sans", Arial, sans-serif' text-anchor="middle" fill="#1a1a1a">GG</text>
<text x="1146" y="605.6" font-size="18.9" font-family='"Liberation Sans", Arial, sans-serif' text-anchor="middle" fill="#1a1a1a">JJ</text>
<rect x="1177.9" y="544.8" width="102.77" height="29.5" fill="#6F3F8F"/>
<text x="1229.14" y="566.25" font-size="18.7" font-family='"Liberation Sans", Arial, sans-serif' text-anchor="middle" fill="#ffffff">5</text>
<rect x="1280.37" y="544.8" width="143.76" height="29.5" fill="#A60053"/>
<text x="1352.1" y="566.25" font-size="18.7" font-family='"Liberation Sans", Arial, sans-serif' text-anchor="middle" fill="#ffffff">7</text>
<rect x="1423.83" y="544.8" width="20.79" height="29.5" fill="#456983"/>
<text x="1434.08" y="566.25" font-size="18.7" font-family='"Liberation Sans", Arial, sans-serif' text-anchor="middle" fill="#ffffff">1</text>
<rect x="1444.32" y="544.8" width="61.78" height="29.5" fill="#B0C0D6"/>
<text x="1475.06" y="566.25" font-size="18.7" font-family='"Liberation Sans", Arial, sans-serif' text-anchor="middle" fill="#555555">3</text>
<rect x="1505.81" y="544.8" width="20.79" height="29.5" fill="#555555"/>
<text x="1516.05" y="566.25" font-size="18.7" font-family='"Liberation Sans", Arial, sans-serif' text-anchor="middle" fill="#ffffff">1</text>
<rect x="1177.9" y="584.3" width="4.77" height="29.8" fill="#C4588F"/>
<text x="1180.13" y="605.9" font-size="18.7" font-family='"Liberation Sans", Arial, sans-serif' text-anchor="middle" fill="#ffffff">1</text>
<rect x="1182.37" y="584.3" width="4.77" height="29.8" fill="#A364CE"/>
<text x="1184.6" y="605.9" font-size="18.7" font-family='"Liberation Sans", Arial, sans-serif' text-anchor="middle" fill="#ffffff">1</text>
<rect x="1186.83" y="584.3" width="143.23" height="29.8" fill="#6F3F8F"/>
<text x="1258.3" y="605.9" font-size="18.7" font-family='"Liberation Sans", Arial, sans-serif' text-anchor="middle" fill="#ffffff">32</text>
<rect x="1329.77" y="584.3" width="107.5" height="29.8" fill="#A60053"/>
<text x="1383.37" y="605.9" font-size="18.7" font-family='"Liberation Sans", Arial, sans-serif' text-anchor="middle" fill="#ffffff">24</text>
<rect x="1436.97" y="584.3" width="44.97" height="29.8" fill="#456983"/>
<text x="1459.3" y="605.9" font-size="18.7" font-family='"Liberation Sans", Arial, sans-serif' text-anchor="middle" fill="#ffffff">10</text>
<rect x="1481.63" y="584.3" width="9.23" height="29.8" fill="url(#pICb)"/>
<text x="1486.1" y="605.9" font-size="18.7" font-family='"Liberation Sans", Arial, sans-serif' text-anchor="middle" fill="#ffffff">2</text>
<rect x="1490.57" y="584.3" width="18.17" height="29.8" fill="#B0C0D6"/>
<text x="1499.5" y="605.9" font-size="18.7" font-family='"Liberation Sans", Arial, sans-serif' text-anchor="middle" fill="#555555">4</text>
<rect x="1508.43" y="584.3" width="18.17" height="29.8" fill="#976114"/>
<text x="1517.37" y="605.9" font-size="18.7" font-family='"Liberation Sans", Arial, sans-serif' text-anchor="middle" fill="#ffffff">4</text>
<text x="1573.5" y="531" font-size="19.4" font-weight="bold" font-family='"Liberation Sans", Arial, sans-serif' fill="#1a1a1a">Galeria</text>
<text x="1606.4" y="566" font-size="18.9" font-family='"Liberation Sans", Arial, sans-serif' text-anchor="middle" fill="#1a1a1a">1</text>
<text x="1606.4" y="605.6" font-size="18.9" font-family='"Liberation Sans", Arial, sans-serif' text-anchor="middle" fill="#1a1a1a">2</text>
<rect x="1641" y="544.5" width="69.88" height="29.6" fill="#FEE3C0"/>
<text x="1675.79" y="566" font-size="18.7" font-family='"Liberation Sans", Arial, sans-serif' text-anchor="middle" fill="#555555">2</text>
<rect x="1710.58" y="544.5" width="35.09" height="29.6" fill="#D08C28"/>
<text x="1727.97" y="566" font-size="18.7" font-family='"Liberation Sans", Arial, sans-serif' text-anchor="middle" fill="#ffffff">1</text>
<rect x="1745.37" y="544.5" width="35.09" height="29.6" fill="#976114"/>
<text x="1762.76" y="566" font-size="18.7" font-family='"Liberation Sans", Arial, sans-serif' text-anchor="middle" fill="#ffffff">1</text>
<rect x="1780.16" y="544.5" width="209.04" height="29.6" fill="#383838"/>
<text x="1884.53" y="566" font-size="18.7" font-family='"Liberation Sans", Arial, sans-serif' text-anchor="middle" fill="#ffffff">6</text>
<rect x="1641" y="584.2" width="43.79" height="29.4" fill="#A60053"/>
<text x="1662.74" y="605.6" font-size="18.7" font-family='"Liberation Sans", Arial, sans-serif' text-anchor="middle" fill="#ffffff">3</text>
<rect x="1684.49" y="584.2" width="14.8" height="29.4" fill="url(#pICc)"/>
<text x="1691.74" y="605.6" font-size="18.7" font-family='"Liberation Sans", Arial, sans-serif' text-anchor="middle" fill="#ffffff">1</text>
<rect x="1698.98" y="584.2" width="14.8" height="29.4" fill="url(#pAHc)"/>
<text x="1706.23" y="605.6" font-size="18.7" font-family='"Liberation Sans", Arial, sans-serif' text-anchor="middle" fill="#555555">1</text>
<rect x="1713.48" y="584.2" width="43.79" height="29.4" fill="#976114"/>
<text x="1735.22" y="605.6" font-size="18.7" font-family='"Liberation Sans", Arial, sans-serif' text-anchor="middle" fill="#ffffff">3</text>
<rect x="1756.97" y="584.2" width="116.27" height="29.4" fill="#555555"/>
<text x="1814.95" y="605.6" font-size="18.7" font-family='"Liberation Sans", Arial, sans-serif' text-anchor="middle" fill="#ffffff">8</text>
<rect x="1872.93" y="584.2" width="116.27" height="29.4" fill="#383838"/>
<text x="1930.92" y="605.6" font-size="18.7" font-family='"Liberation Sans", Arial, sans-serif' text-anchor="middle" fill="#ffffff">8</text>
<rect x="724.1" y="674.2" width="31.8" height="31.6" fill="#FEE3C0"/>
<text x="768.2" y="695.8" font-size="19.8" font-family='"Liberation Sans", Arial, sans-serif' fill="#1a1a1a">Rabbit</text>
<rect x="724.1" y="708.5" width="31.8" height="31.6" fill="#C4588F"/>
<text x="768.2" y="730.1" font-size="19.8" font-family='"Liberation Sans", Arial, sans-serif' fill="#1a1a1a">Wild boar</text>
<rect x="888.2" y="674.2" width="31.8" height="31.6" fill="#A364CE"/>
<text x="932.8" y="695.8" font-size="19.8" font-family='"Liberation Sans", Arial, sans-serif' fill="#1a1a1a">Wild ass</text>
<rect x="888.2" y="708.5" width="31.8" height="31.6" fill="#6F3F8F"/>
<text x="932.8" y="730.1" font-size="19.8" font-family='"Liberation Sans", Arial, sans-serif' fill="#1a1a1a">Horse</text>
<rect x="1061.8" y="674.2" width="31.8" height="31.6" fill="#A60053"/>
<text x="1106.5" y="695.8" font-size="19.8" font-family='"Liberation Sans", Arial, sans-serif' fill="#1a1a1a">Deer</text>
<rect x="1061.8" y="708.5" width="31.8" height="31.6" fill="url(#pDCk)"/>
<text x="1106.5" y="730.1" font-size="19.8" font-family='"Liberation Sans", Arial, sans-serif' fill="#1a1a1a">Deer/Chamois</text>
<rect x="1286.7" y="674.2" width="31.8" height="31.6" fill="#456983"/>
<text x="1331" y="695.8" font-size="19.8" font-family='"Liberation Sans", Arial, sans-serif' fill="#1a1a1a">Ibex</text>
<rect x="1286.7" y="708.5" width="31.8" height="31.6" fill="url(#pICk)"/>
<text x="1331" y="730.1" font-size="19.8" font-family='"Liberation Sans", Arial, sans-serif' fill="#1a1a1a">Ibex/Chamois</text>
<rect x="1286.7" y="742.9" width="31.8" height="31.6" fill="#B0C0D6"/>
<text x="1331" y="764.5" font-size="19.8" font-family='"Liberation Sans", Arial, sans-serif' fill="#1a1a1a">Chamois</text>
<rect x="1505.2" y="674.2" width="31.8" height="31.6" fill="#976114"/>
<text x="1550.1" y="695.8" font-size="19.8" font-family='"Liberation Sans", Arial, sans-serif' fill="#1a1a1a">Aurochs/Bison</text>
<rect x="1505.2" y="708.5" width="31.8" height="31.6" fill="#D08C28"/>
<text x="1550.1" y="730.1" font-size="19.8" font-family='"Liberation Sans", Arial, sans-serif' fill="#1a1a1a">Aurochs/Bison/Buffalo</text>
<rect x="1505.2" y="742.9" width="31.8" height="31.6" fill="url(#pAHk)"/>
<text x="1550.1" y="756.1" font-size="19.8" font-family='"Liberation Sans", Arial, sans-serif' fill="#1a1a1a">Aurochs/Bison/Buffalo/</text>
<text x="1550.1" y="775" font-size="19.8" font-family='"Liberation Sans", Arial, sans-serif' fill="#1a1a1a">Horse/Chamois</text>
<rect x="1812.6" y="674.2" width="31.8" height="31.6" fill="#383838"/>
<text x="1857" y="695.8" font-size="19.8" font-family='"Liberation Sans", Arial, sans-serif' fill="#1a1a1a">below FDR</text>
<rect x="1812.6" y="708.5" width="31.8" height="31.6" fill="#555555"/>
<text x="1857" y="730.1" font-size="19.8" font-family='"Liberation Sans", Arial, sans-serif' fill="#1a1a1a">weak signal</text>
<text x="0" y="826" font-size="26" font-weight="bold" font-family='"Liberation Sans", Arial, sans-serif'>c</text>
<rect x="17.2" y="837.6" width="267.4" height="136.2" fill="#fff" stroke="#000" stroke-width="1.6"/>
<text x="36.6" y="872.4" font-size="27.6" font-family='"Liberation Sans", Arial, sans-serif'>Avg. fold-coverage</text>
<defs><linearGradient id="cb" x1="0" x2="1" y1="0" y2="0">
<stop offset="0" stop-color="#fff"/><stop offset="0.104" stop-color="#5b85a8"/><stop offset="0.118" stop-color="#5b85a8"/>
<stop offset="0.30" stop-color="#8a6590"/><stop offset="0.565" stop-color="#a5205c"/><stop offset="0.583" stop-color="#a60053"/><stop offset="1" stop-color="#a60053"/></linearGradient></defs>
<rect x="40.9" y="888" width="227" height="45.7" fill="url(#cb)"/>
<text x="40.9" y="959.6" font-size="27" font-family='"Liberation Sans", Arial, sans-serif' text-anchor="middle">0</text>
<path d="M67.7 888v9M67.7 924.7v9" stroke="#fff" stroke-width="1.7"/>
<text x="67.7" y="959.6" font-size="27" font-family='"Liberation Sans", Arial, sans-serif' text-anchor="middle">1</text>
<path d="M108.9 888v9M108.9 924.7v9" stroke="#fff" stroke-width="1.7"/>
<text x="108.9" y="959.6" font-size="27" font-family='"Liberation Sans", Arial, sans-serif' text-anchor="middle">3</text>
<path d="M173.1 888v9M173.1 924.7v9" stroke="#fff" stroke-width="1.7"/>
<text x="174.3" y="959.6" font-size="27" font-family='"Liberation Sans", Arial, sans-serif' text-anchor="middle">10</text>
<path d="M236 888v9M236 924.7v9" stroke="#fff" stroke-width="1.7"/>
<text x="237.2" y="959.6" font-size="27" font-family='"Liberation Sans", Arial, sans-serif' text-anchor="middle">30</text>
<text x="290.6" y="1025.8" font-size="27.4" font-family='"Liberation Sans", Arial, sans-serif' text-anchor="end">Reference</text>
<text x="290.6" y="1080" font-size="27.4" font-family='"Liberation Sans", Arial, sans-serif' text-anchor="end">Salpetermosen</text>
<text x="290.6" y="1134.3" font-size="27.4" font-family='"Liberation Sans", Arial, sans-serif' text-anchor="end">Vale Boi</text>
<text x="290.6" y="1189.1" font-size="27.4" font-family='"Liberation Sans", Arial, sans-serif' text-anchor="end">Lapa do Picareiro</text>
<text x="290.6" y="1243.9" font-size="27.4" font-family='"Liberation Sans", Arial, sans-serif' text-anchor="end">Gruta da Companheira</text>
<path fill="#7c6f97" d="M315.5 987.8h6.92v55.8h-6.92zM394.32 987.8h16.77v55.8h-16.77zM433.73 987.8h3.63v55.8h-3.63zM1139.83 987.8h6.92v55.8h-6.92zM1175.96 987.8h3.63v55.8h-3.63zM1202.23 987.8h3.63v55.8h-3.63zM1330.31 987.8h6.92v55.8h-6.92zM1359.87 987.8h3.63v55.8h-3.63zM1422.27 987.8h13.49v55.8h-13.49zM1464.96 987.8h3.63v55.8h-3.63zM1780.24 987.8h3.63v55.8h-3.63zM1796.67 987.8h6.92v55.8h-6.92zM1885.34 987.8h3.63v55.8h-3.63zM1898.47 987.8h3.63v55.8h-3.63zM1987.15 987.8h3.63v55.8h-3.63z"/>
<path fill="#5b85a8" d="M322.07 987.8h3.63v55.8h-3.63zM348.34 987.8h3.63v55.8h-3.63zM391.04 987.8h3.63v55.8h-3.63zM499.41 987.8h6.92v55.8h-6.92zM538.82 987.8h3.63v55.8h-3.63zM988.76 987.8h3.63v55.8h-3.63zM1067.58 987.8h3.63v55.8h-3.63zM1126.69 987.8h3.63v55.8h-3.63zM1218.65 987.8h3.63v55.8h-3.63zM1261.34 987.8h6.92v55.8h-6.92zM1327.03 987.8h3.63v55.8h-3.63zM1409.13 987.8h3.63v55.8h-3.63zM1458.39 987.8h3.63v55.8h-3.63zM1468.25 987.8h10.2v55.8h-10.2zM1579.91 987.8h3.63v55.8h-3.63zM1586.48 987.8h3.63v55.8h-3.63zM1652.16 987.8h6.92v55.8h-6.92zM1793.38 987.8h3.63v55.8h-3.63zM1859.06 987.8h3.63v55.8h-3.63zM1878.77 987.8h3.63v55.8h-3.63zM1891.91 987.8h6.92v55.8h-6.92zM1970.73 987.8h10.2v55.8h-10.2zM1990.43 987.8h6.92v55.8h-6.92z"/>
<path fill="#8e5687" d="M325.35 987.8h6.92v55.8h-6.92zM423.88 987.8h3.63v55.8h-3.63zM535.54 987.8h3.63v55.8h-3.63zM650.49 987.8h3.63v55.8h-3.63zM860.67 987.8h3.63v55.8h-3.63zM1235.07 987.8h10.2v55.8h-10.2zM1405.85 987.8h3.63v55.8h-3.63zM1415.7 987.8h3.63v55.8h-3.63zM1685 987.8h3.63v55.8h-3.63zM1698.14 987.8h3.63v55.8h-3.63zM1747.4 987.8h3.63v55.8h-3.63zM1806.52 987.8h3.63v55.8h-3.63zM1865.63 987.8h3.63v55.8h-3.63z"/>
<path fill="#d3dee8" d="M331.92 987.8h3.63v55.8h-3.63zM345.06 987.8h3.63v55.8h-3.63zM351.63 987.8h3.63v55.8h-3.63zM453.44 987.8h3.63v55.8h-3.63zM479.71 987.8h10.2v55.8h-10.2zM519.12 987.8h3.63v55.8h-3.63zM528.97 987.8h3.63v55.8h-3.63zM574.95 987.8h3.63v55.8h-3.63zM611.08 987.8h6.92v55.8h-6.92zM709.6 987.8h10.2v55.8h-10.2zM749.01 987.8h3.63v55.8h-3.63zM765.43 987.8h3.63v55.8h-3.63zM821.26 987.8h3.63v55.8h-3.63zM837.68 987.8h10.2v55.8h-10.2zM896.8 987.8h3.63v55.8h-3.63zM982.19 987.8h3.63v55.8h-3.63zM1064.29 987.8h3.63v55.8h-3.63zM1074.15 987.8h3.63v55.8h-3.63zM1133.26 987.8h6.92v55.8h-6.92zM1146.4 987.8h3.63v55.8h-3.63zM1195.66 987.8h3.63v55.8h-3.63zM1205.51 987.8h3.63v55.8h-3.63zM1212.08 987.8h3.63v55.8h-3.63zM1290.9 987.8h6.92v55.8h-6.92zM1389.43 987.8h3.63v55.8h-3.63zM1573.34 987.8h3.63v55.8h-3.63zM1593.05 987.8h3.63v55.8h-3.63zM1616.04 987.8h3.63v55.8h-3.63zM1714.56 987.8h3.63v55.8h-3.63zM1803.23 987.8h3.63v55.8h-3.63zM1809.8 987.8h3.63v55.8h-3.63zM1852.5 987.8h3.63v55.8h-3.63zM1924.75 987.8h6.92v55.8h-6.92z"/>
<path fill="#6b7aa0" d="M335.21 987.8h3.63v55.8h-3.63zM341.77 987.8h3.63v55.8h-3.63zM364.76 987.8h6.92v55.8h-6.92zM377.9 987.8h6.92v55.8h-6.92zM427.16 987.8h6.92v55.8h-6.92zM505.98 987.8h6.92v55.8h-6.92zM597.94 987.8h6.92v55.8h-6.92zM617.64 987.8h3.63v55.8h-3.63zM624.21 987.8h3.63v55.8h-3.63zM1106.99 987.8h3.63v55.8h-3.63zM1215.37 987.8h3.63v55.8h-3.63zM1225.22 987.8h6.92v55.8h-6.92zM1307.32 987.8h6.92v55.8h-6.92zM1320.46 987.8h3.63v55.8h-3.63zM1392.71 987.8h3.63v55.8h-3.63zM1441.97 987.8h3.63v55.8h-3.63zM1448.54 987.8h3.63v55.8h-3.63zM1527.36 987.8h3.63v55.8h-3.63zM1533.93 987.8h3.63v55.8h-3.63zM1553.64 987.8h10.2v55.8h-10.2zM1625.89 987.8h3.63v55.8h-3.63zM1642.31 987.8h3.63v55.8h-3.63zM1668.58 987.8h3.63v55.8h-3.63zM1678.43 987.8h6.92v55.8h-6.92zM1691.57 987.8h3.63v55.8h-3.63zM1750.69 987.8h6.92v55.8h-6.92zM1770.39 987.8h6.92v55.8h-6.92zM1862.35 987.8h3.63v55.8h-3.63zM1868.92 987.8h6.92v55.8h-6.92z"/>
<path fill="#973875" d="M338.49 987.8h3.63v55.8h-3.63zM371.33 987.8h3.63v55.8h-3.63zM410.74 987.8h3.63v55.8h-3.63zM420.59 987.8h3.63v55.8h-3.63zM995.33 987.8h6.92v55.8h-6.92zM1244.92 987.8h3.63v55.8h-3.63z"/>
<path fill="#b5c8d8" d="M354.91 987.8h6.92v55.8h-6.92zM437.01 987.8h3.63v55.8h-3.63zM532.26 987.8h3.63v55.8h-3.63zM565.1 987.8h6.92v55.8h-6.92zM578.23 987.8h3.63v55.8h-3.63zM653.77 987.8h6.92v55.8h-6.92zM781.85 987.8h3.63v55.8h-3.63zM985.47 987.8h3.63v55.8h-3.63zM1120.12 987.8h6.92v55.8h-6.92zM1221.93 987.8h3.63v55.8h-3.63zM1313.89 987.8h3.63v55.8h-3.63zM1438.69 987.8h3.63v55.8h-3.63zM1455.11 987.8h3.63v55.8h-3.63zM1530.65 987.8h3.63v55.8h-3.63zM1665.3 987.8h3.63v55.8h-3.63zM1671.87 987.8h3.63v55.8h-3.63zM1875.49 987.8h3.63v55.8h-3.63zM1937.88 987.8h3.63v55.8h-3.63z"/>
<path fill="#ebf0f5" d="M374.62 987.8h3.63v55.8h-3.63zM450.15 987.8h3.63v55.8h-3.63zM456.72 987.8h3.63v55.8h-3.63zM604.51 987.8h3.63v55.8h-3.63zM637.35 987.8h3.63v55.8h-3.63zM719.45 987.8h6.92v55.8h-6.92zM768.72 987.8h13.49v55.8h-13.49zM969.05 987.8h3.63v55.8h-3.63zM1057.72 987.8h3.63v55.8h-3.63zM1087.28 987.8h6.92v55.8h-6.92zM1149.68 987.8h3.63v55.8h-3.63zM1166.1 987.8h10.2v55.8h-10.2zM1297.47 987.8h3.63v55.8h-3.63zM1501.09 987.8h3.63v55.8h-3.63zM1563.49 987.8h6.92v55.8h-6.92zM1576.62 987.8h3.63v55.8h-3.63zM1589.76 987.8h3.63v55.8h-3.63zM1609.47 987.8h3.63v55.8h-3.63zM1635.74 987.8h3.63v55.8h-3.63zM1645.59 987.8h3.63v55.8h-3.63zM1757.25 987.8h3.63v55.8h-3.63zM1845.93 987.8h3.63v55.8h-3.63zM1855.78 987.8h3.63v55.8h-3.63zM1901.76 987.8h3.63v55.8h-3.63zM1931.32 987.8h6.92v55.8h-6.92zM1947.74 987.8h13.49v55.8h-13.49z"/>
<path fill="#f9fbfc" d="M443.58 987.8h3.63v55.8h-3.63zM476.42 987.8h3.63v55.8h-3.63zM492.85 987.8h3.63v55.8h-3.63zM555.25 987.8h3.63v55.8h-3.63zM584.8 987.8h3.63v55.8h-3.63zM591.37 987.8h6.92v55.8h-6.92zM607.79 987.8h3.63v55.8h-3.63zM620.93 987.8h3.63v55.8h-3.63zM627.5 987.8h3.63v55.8h-3.63zM634.07 987.8h3.63v55.8h-3.63zM680.04 987.8h6.92v55.8h-6.92zM703.03 987.8h6.92v55.8h-6.92zM729.31 987.8h3.63v55.8h-3.63zM735.88 987.8h10.2v55.8h-10.2zM755.58 987.8h3.63v55.8h-3.63zM762.15 987.8h3.63v55.8h-3.63zM785.14 987.8h6.92v55.8h-6.92zM801.56 987.8h3.63v55.8h-3.63zM827.83 987.8h3.63v55.8h-3.63zM850.82 987.8h6.92v55.8h-6.92zM877.09 987.8h3.63v55.8h-3.63zM1061.01 987.8h3.63v55.8h-3.63zM1093.85 987.8h3.63v55.8h-3.63zM1100.42 987.8h3.63v55.8h-3.63zM1116.84 987.8h3.63v55.8h-3.63zM1179.24 987.8h3.63v55.8h-3.63zM1300.75 987.8h3.63v55.8h-3.63zM1399.28 987.8h3.63v55.8h-3.63zM1494.52 987.8h3.63v55.8h-3.63zM1537.21 987.8h6.92v55.8h-6.92zM1570.06 987.8h3.63v55.8h-3.63zM1596.33 987.8h3.63v55.8h-3.63zM1602.9 987.8h3.63v55.8h-3.63zM1632.46 987.8h3.63v55.8h-3.63zM1701.42 987.8h3.63v55.8h-3.63zM1707.99 987.8h3.63v55.8h-3.63zM1783.53 987.8h3.63v55.8h-3.63zM1813.09 987.8h6.92v55.8h-6.92zM1842.64 987.8h3.63v55.8h-3.63zM1849.21 987.8h3.63v55.8h-3.63zM1882.05 987.8h3.63v55.8h-3.63zM1888.62 987.8h3.63v55.8h-3.63zM1918.18 987.8h6.92v55.8h-6.92zM1941.17 987.8h3.63v55.8h-3.63zM1960.87 987.8h6.92v55.8h-6.92z"/>
<path fill="#98b2c8" d="M489.56 987.8h3.63v55.8h-3.63zM522.4 987.8h3.63v55.8h-3.63zM571.67 987.8h3.63v55.8h-3.63zM581.52 987.8h3.63v55.8h-3.63zM588.09 987.8h3.63v55.8h-3.63zM630.78 987.8h3.63v55.8h-3.63zM647.2 987.8h3.63v55.8h-3.63zM696.46 987.8h3.63v55.8h-3.63zM758.86 987.8h3.63v55.8h-3.63zM1084 987.8h3.63v55.8h-3.63zM1156.25 987.8h3.63v55.8h-3.63zM1208.8 987.8h3.63v55.8h-3.63zM1254.78 987.8h6.92v55.8h-6.92zM1323.74 987.8h3.63v55.8h-3.63zM1336.88 987.8h3.63v55.8h-3.63zM1343.45 987.8h6.92v55.8h-6.92zM1356.58 987.8h3.63v55.8h-3.63zM1435.41 987.8h3.63v55.8h-3.63zM1451.83 987.8h3.63v55.8h-3.63zM1550.35 987.8h3.63v55.8h-3.63zM1662.01 987.8h3.63v55.8h-3.63zM1760.54 987.8h3.63v55.8h-3.63zM1776.96 987.8h3.63v55.8h-3.63zM1790.1 987.8h3.63v55.8h-3.63zM1983.86 987.8h3.63v55.8h-3.63z"/>
<path fill="#799bb8" d="M561.81 987.8h3.63v55.8h-3.63zM975.62 987.8h6.92v55.8h-6.92zM1317.17 987.8h3.63v55.8h-3.63zM1340.16 987.8h3.63v55.8h-3.63zM1418.98 987.8h3.63v55.8h-3.63zM1658.73 987.8h3.63v55.8h-3.63zM1694.86 987.8h3.63v55.8h-3.63zM1980.58 987.8h3.63v55.8h-3.63z"/>
<path fill="#a60053" d="M900.08 987.8h6.92v55.8h-6.92zM909.94 987.8h13.49v55.8h-13.49zM926.36 987.8h3.63v55.8h-3.63zM932.93 987.8h3.63v55.8h-3.63zM939.49 987.8h29.91v55.8h-29.91zM1001.89 987.8h6.92v55.8h-6.92zM1011.75 987.8h3.63v55.8h-3.63zM1021.6 987.8h20.06v55.8h-20.06zM1044.59 987.8h13.49v55.8h-13.49z"/>
<path fill="#9e1c64" d="M906.65 987.8h3.63v55.8h-3.63zM923.07 987.8h3.63v55.8h-3.63zM929.64 987.8h3.63v55.8h-3.63zM936.21 987.8h3.63v55.8h-3.63zM992.04 987.8h3.63v55.8h-3.63zM1008.46 987.8h3.63v55.8h-3.63zM1015.03 987.8h6.92v55.8h-6.92zM1041.3 987.8h3.63v55.8h-3.63zM1162.82 987.8h3.63v55.8h-3.63zM1248.21 987.8h6.92v55.8h-6.92zM1353.3 987.8h3.63v55.8h-3.63zM1461.68 987.8h3.63v55.8h-3.63z"/>
<path fill="#799bb8" d="M315.5 1043.3h6.92v55.7h-6.92zM364.76 1043.3h3.63v55.7h-3.63zM404.17 1043.3h6.92v55.7h-6.92zM433.73 1043.3h3.63v55.7h-3.63zM1218.65 1043.3h3.63v55.7h-3.63zM1264.63 1043.3h3.63v55.7h-3.63zM1307.32 1043.3h3.63v55.7h-3.63zM1392.71 1043.3h3.63v55.7h-3.63zM1409.13 1043.3h3.63v55.7h-3.63zM1468.25 1043.3h3.63v55.7h-3.63zM1560.2 1043.3h3.63v55.7h-3.63zM1579.91 1043.3h3.63v55.7h-3.63zM1662.01 1043.3h3.63v55.7h-3.63zM1776.96 1043.3h6.92v55.7h-6.92zM1793.38 1043.3h3.63v55.7h-3.63z"/>
<path fill="#b5c8d8" d="M322.07 1043.3h3.63v55.7h-3.63zM377.9 1043.3h6.92v55.7h-6.92zM397.6 1043.3h3.63v55.7h-3.63zM430.45 1043.3h3.63v55.7h-3.63zM489.56 1043.3h3.63v55.7h-3.63zM509.27 1043.3h3.63v55.7h-3.63zM601.22 1043.3h3.63v55.7h-3.63zM630.78 1043.3h3.63v55.7h-3.63zM1126.69 1043.3h3.63v55.7h-3.63zM1221.93 1043.3h3.63v55.7h-3.63zM1254.78 1043.3h3.63v55.7h-3.63zM1313.89 1043.3h6.92v55.7h-6.92zM1418.98 1043.3h3.63v55.7h-3.63zM1471.53 1043.3h3.63v55.7h-3.63zM1865.63 1043.3h3.63v55.7h-3.63zM1885.34 1043.3h3.63v55.7h-3.63zM1987.15 1043.3h3.63v55.7h-3.63z"/>
<path fill="#5b85a8" d="M325.35 1043.3h6.92v55.7h-6.92zM335.21 1043.3h3.63v55.7h-3.63zM371.33 1043.3h3.63v55.7h-3.63zM394.32 1043.3h3.63v55.7h-3.63zM410.74 1043.3h3.63v55.7h-3.63zM420.59 1043.3h6.92v55.7h-6.92zM499.41 1043.3h10.2v55.7h-10.2zM624.21 1043.3h3.63v55.7h-3.63zM988.76 1043.3h3.63v55.7h-3.63zM1215.37 1043.3h3.63v55.7h-3.63zM1225.22 1043.3h3.63v55.7h-3.63zM1320.46 1043.3h3.63v55.7h-3.63zM1359.87 1043.3h3.63v55.7h-3.63zM1405.85 1043.3h3.63v55.7h-3.63zM1441.97 1043.3h3.63v55.7h-3.63zM1448.54 1043.3h3.63v55.7h-3.63zM1527.36 1043.3h3.63v55.7h-3.63zM1533.93 1043.3h3.63v55.7h-3.63zM1553.64 1043.3h3.63v55.7h-3.63zM1642.31 1043.3h3.63v55.7h-3.63zM1652.16 1043.3h10.2v55.7h-10.2zM1668.58 1043.3h3.63v55.7h-3.63zM1678.43 1043.3h6.92v55.7h-6.92zM1770.39 1043.3h6.92v55.7h-6.92zM1799.95 1043.3h3.63v55.7h-3.63zM1898.47 1043.3h3.63v55.7h-3.63z"/>
<path fill="#d3dee8" d="M331.92 1043.3h3.63v55.7h-3.63zM341.77 1043.3h3.63v55.7h-3.63zM354.91 1043.3h3.63v55.7h-3.63zM391.04 1043.3h3.63v55.7h-3.63zM427.16 1043.3h3.63v55.7h-3.63zM522.4 1043.3h3.63v55.7h-3.63zM538.82 1043.3h3.63v55.7h-3.63zM611.08 1043.3h3.63v55.7h-3.63zM647.2 1043.3h3.63v55.7h-3.63zM975.62 1043.3h6.92v55.7h-6.92zM1067.58 1043.3h3.63v55.7h-3.63zM1120.12 1043.3h6.92v55.7h-6.92zM1146.4 1043.3h6.92v55.7h-6.92zM1208.8 1043.3h3.63v55.7h-3.63zM1258.06 1043.3h3.63v55.7h-3.63zM1323.74 1043.3h6.92v55.7h-6.92zM1336.88 1043.3h13.49v55.7h-13.49zM1356.58 1043.3h3.63v55.7h-3.63zM1389.43 1043.3h3.63v55.7h-3.63zM1530.65 1043.3h3.63v55.7h-3.63zM1550.35 1043.3h3.63v55.7h-3.63zM1573.34 1043.3h3.63v55.7h-3.63zM1750.69 1043.3h3.63v55.7h-3.63zM1809.8 1043.3h3.63v55.7h-3.63zM1868.92 1043.3h6.92v55.7h-6.92zM1878.77 1043.3h3.63v55.7h-3.63zM1891.91 1043.3h6.92v55.7h-6.92zM1937.88 1043.3h3.63v55.7h-3.63zM1970.73 1043.3h13.49v55.7h-13.49zM1990.43 1043.3h6.92v55.7h-6.92z"/>
<path fill="#6b7aa0" d="M338.49 1043.3h3.63v55.7h-3.63zM617.64 1043.3h3.63v55.7h-3.63zM650.49 1043.3h3.63v55.7h-3.63zM860.67 1043.3h3.63v55.7h-3.63zM1106.99 1043.3h3.63v55.7h-3.63zM1143.11 1043.3h3.63v55.7h-3.63zM1175.96 1043.3h3.63v55.7h-3.63zM1202.23 1043.3h3.63v55.7h-3.63zM1330.31 1043.3h6.92v55.7h-6.92zM1415.7 1043.3h3.63v55.7h-3.63zM1422.27 1043.3h13.49v55.7h-13.49zM1464.96 1043.3h3.63v55.7h-3.63zM1685 1043.3h3.63v55.7h-3.63zM1691.57 1043.3h3.63v55.7h-3.63zM1698.14 1043.3h3.63v55.7h-3.63zM1753.97 1043.3h3.63v55.7h-3.63zM1796.67 1043.3h3.63v55.7h-3.63z"/>
<path fill="#f9fbfc" d="M345.06 1043.3h3.63v55.7h-3.63zM351.63 1043.3h3.63v55.7h-3.63zM374.62 1043.3h3.63v55.7h-3.63zM440.3 1043.3h6.92v55.7h-6.92zM450.15 1043.3h6.92v55.7h-6.92zM476.42 1043.3h3.63v55.7h-3.63zM492.85 1043.3h3.63v55.7h-3.63zM555.25 1043.3h3.63v55.7h-3.63zM565.1 1043.3h3.63v55.7h-3.63zM574.95 1043.3h10.2v55.7h-10.2zM588.09 1043.3h3.63v55.7h-3.63zM604.51 1043.3h3.63v55.7h-3.63zM614.36 1043.3h3.63v55.7h-3.63zM657.05 1043.3h3.63v55.7h-3.63zM683.33 1043.3h3.63v55.7h-3.63zM703.03 1043.3h6.92v55.7h-6.92zM719.45 1043.3h13.49v55.7h-13.49zM739.16 1043.3h13.49v55.7h-13.49zM762.15 1043.3h3.63v55.7h-3.63zM768.72 1043.3h6.92v55.7h-6.92zM808.13 1043.3h3.63v55.7h-3.63zM814.7 1043.3h3.63v55.7h-3.63zM827.83 1043.3h3.63v55.7h-3.63zM850.82 1043.3h6.92v55.7h-6.92zM969.05 1043.3h3.63v55.7h-3.63zM982.19 1043.3h3.63v55.7h-3.63zM1057.72 1043.3h3.63v55.7h-3.63zM1084 1043.3h13.49v55.7h-13.49zM1166.1 1043.3h6.92v55.7h-6.92zM1192.38 1043.3h6.92v55.7h-6.92zM1290.9 1043.3h13.49v55.7h-13.49zM1399.28 1043.3h3.63v55.7h-3.63zM1501.09 1043.3h3.63v55.7h-3.63zM1576.62 1043.3h3.63v55.7h-3.63zM1593.05 1043.3h3.63v55.7h-3.63zM1609.47 1043.3h3.63v55.7h-3.63zM1616.04 1043.3h3.63v55.7h-3.63zM1635.74 1043.3h3.63v55.7h-3.63zM1786.81 1043.3h3.63v55.7h-3.63zM1803.23 1043.3h3.63v55.7h-3.63zM1901.76 1043.3h3.63v55.7h-3.63zM1918.18 1043.3h3.63v55.7h-3.63zM1934.6 1043.3h3.63v55.7h-3.63zM1941.17 1043.3h3.63v55.7h-3.63zM1951.02 1043.3h3.63v55.7h-3.63zM1957.59 1043.3h3.63v55.7h-3.63z"/>
<path fill="#ebf0f5" d="M348.34 1043.3h3.63v55.7h-3.63zM358.19 1043.3h3.63v55.7h-3.63zM437.01 1043.3h3.63v55.7h-3.63zM479.71 1043.3h10.2v55.7h-10.2zM519.12 1043.3h3.63v55.7h-3.63zM528.97 1043.3h6.92v55.7h-6.92zM561.81 1043.3h3.63v55.7h-3.63zM568.38 1043.3h6.92v55.7h-6.92zM634.07 1043.3h3.63v55.7h-3.63zM653.77 1043.3h3.63v55.7h-3.63zM696.46 1043.3h3.63v55.7h-3.63zM709.6 1043.3h10.2v55.7h-10.2zM758.86 1043.3h3.63v55.7h-3.63zM765.43 1043.3h3.63v55.7h-3.63zM781.85 1043.3h3.63v55.7h-3.63zM821.26 1043.3h3.63v55.7h-3.63zM837.68 1043.3h10.2v55.7h-10.2zM896.8 1043.3h3.63v55.7h-3.63zM985.47 1043.3h3.63v55.7h-3.63zM1064.29 1043.3h3.63v55.7h-3.63zM1074.15 1043.3h3.63v55.7h-3.63zM1129.98 1043.3h10.2v55.7h-10.2zM1156.25 1043.3h3.63v55.7h-3.63zM1205.51 1043.3h3.63v55.7h-3.63zM1212.08 1043.3h3.63v55.7h-3.63zM1350.02 1043.3h3.63v55.7h-3.63zM1435.41 1043.3h6.92v55.7h-6.92zM1563.49 1043.3h10.2v55.7h-10.2zM1589.76 1043.3h3.63v55.7h-3.63zM1671.87 1043.3h3.63v55.7h-3.63zM1714.56 1043.3h3.63v55.7h-3.63zM1790.1 1043.3h3.63v55.7h-3.63zM1852.5 1043.3h3.63v55.7h-3.63zM1859.06 1043.3h3.63v55.7h-3.63zM1921.46 1043.3h13.49v55.7h-13.49zM1947.74 1043.3h3.63v55.7h-3.63zM1983.86 1043.3h3.63v55.7h-3.63z"/>
<path fill="#98b2c8" d="M368.05 1043.3h3.63v55.7h-3.63zM400.89 1043.3h3.63v55.7h-3.63zM597.94 1043.3h3.63v55.7h-3.63zM1228.5 1043.3h3.63v55.7h-3.63zM1261.34 1043.3h3.63v55.7h-3.63zM1310.61 1043.3h3.63v55.7h-3.63zM1451.83 1043.3h10.2v55.7h-10.2zM1474.82 1043.3h3.63v55.7h-3.63zM1556.92 1043.3h3.63v55.7h-3.63zM1586.48 1043.3h3.63v55.7h-3.63zM1625.89 1043.3h3.63v55.7h-3.63zM1665.3 1043.3h3.63v55.7h-3.63zM1694.86 1043.3h3.63v55.7h-3.63zM1760.54 1043.3h3.63v55.7h-3.63zM1862.35 1043.3h3.63v55.7h-3.63z"/>
<path fill="#7c6f97" d="M535.54 1043.3h3.63v55.7h-3.63zM992.04 1043.3h10.2v55.7h-10.2zM1139.83 1043.3h3.63v55.7h-3.63zM1353.3 1043.3h3.63v55.7h-3.63zM1747.4 1043.3h3.63v55.7h-3.63zM1806.52 1043.3h3.63v55.7h-3.63z"/>
<path fill="#9e1c64" d="M900.08 1043.3h3.63v55.7h-3.63zM906.65 1043.3h3.63v55.7h-3.63zM926.36 1043.3h6.92v55.7h-6.92zM936.21 1043.3h3.63v55.7h-3.63zM1001.89 1043.3h3.63v55.7h-3.63zM1011.75 1043.3h3.63v55.7h-3.63zM1021.6 1043.3h6.92v55.7h-6.92zM1031.45 1043.3h6.92v55.7h-6.92zM1044.59 1043.3h3.63v55.7h-3.63zM1051.16 1043.3h6.92v55.7h-6.92z"/>
<path fill="#973875" d="M903.37 1043.3h3.63v55.7h-3.63zM909.94 1043.3h6.92v55.7h-6.92zM923.07 1043.3h3.63v55.7h-3.63zM1005.18 1043.3h6.92v55.7h-6.92zM1015.03 1043.3h6.92v55.7h-6.92zM1028.17 1043.3h3.63v55.7h-3.63zM1038.02 1043.3h6.92v55.7h-6.92zM1047.87 1043.3h3.63v55.7h-3.63zM1248.21 1043.3h3.63v55.7h-3.63z"/>
<path fill="#a60053" d="M916.5 1043.3h6.92v55.7h-6.92zM932.93 1043.3h3.63v55.7h-3.63zM939.49 1043.3h29.91v55.7h-29.91z"/>
<path fill="#8e5687" d="M1162.82 1043.3h3.63v55.7h-3.63zM1235.07 1043.3h13.49v55.7h-13.49zM1251.49 1043.3h3.63v55.7h-3.63zM1461.68 1043.3h3.63v55.7h-3.63z"/>
<path fill="#f9fbfc" d="M325.35 1098.7h6.92v55.7h-6.92zM348.34 1098.7h13.49v55.7h-13.49zM368.05 1098.7h6.92v55.7h-6.92zM377.9 1098.7h6.92v55.7h-6.92zM479.71 1098.7h3.63v55.7h-3.63zM486.28 1098.7h3.63v55.7h-3.63zM519.12 1098.7h3.63v55.7h-3.63zM528.97 1098.7h6.92v55.7h-6.92zM545.39 1098.7h3.63v55.7h-3.63zM604.51 1098.7h3.63v55.7h-3.63zM611.08 1098.7h3.63v55.7h-3.63zM634.07 1098.7h6.92v55.7h-6.92zM863.96 1098.7h6.92v55.7h-6.92zM873.81 1098.7h3.63v55.7h-3.63zM1290.9 1098.7h3.63v55.7h-3.63zM1350.02 1098.7h3.63v55.7h-3.63zM1356.58 1098.7h3.63v55.7h-3.63zM1389.43 1098.7h3.63v55.7h-3.63zM1399.28 1098.7h3.63v55.7h-3.63zM1540.5 1098.7h3.63v55.7h-3.63zM1566.77 1098.7h3.63v55.7h-3.63zM1629.17 1098.7h6.92v55.7h-6.92zM1652.16 1098.7h3.63v55.7h-3.63z"/>
<path fill="#ebf0f5" d="M364.76 1098.7h3.63v55.7h-3.63zM614.36 1098.7h3.63v55.7h-3.63zM630.78 1098.7h3.63v55.7h-3.63zM1120.12 1098.7h3.63v55.7h-3.63zM1149.68 1098.7h3.63v55.7h-3.63zM1212.08 1098.7h3.63v55.7h-3.63zM1340.16 1098.7h10.2v55.7h-10.2zM1773.68 1098.7h3.63v55.7h-3.63zM1790.1 1098.7h3.63v55.7h-3.63z"/>
<path fill="#b5c8d8" d="M482.99 1098.7h3.63v55.7h-3.63zM597.94 1098.7h3.63v55.7h-3.63zM617.64 1098.7h3.63v55.7h-3.63zM624.21 1098.7h3.63v55.7h-3.63zM647.2 1098.7h3.63v55.7h-3.63zM653.77 1098.7h6.92v55.7h-6.92zM988.76 1098.7h3.63v55.7h-3.63zM1126.69 1098.7h3.63v55.7h-3.63zM1221.93 1098.7h3.63v55.7h-3.63zM1307.32 1098.7h3.63v55.7h-3.63zM1313.89 1098.7h6.92v55.7h-6.92zM1451.83 1098.7h3.63v55.7h-3.63zM1533.93 1098.7h3.63v55.7h-3.63zM1550.35 1098.7h13.49v55.7h-13.49zM1586.48 1098.7h3.63v55.7h-3.63zM1593.05 1098.7h3.63v55.7h-3.63zM1658.73 1098.7h3.63v55.7h-3.63zM1668.58 1098.7h3.63v55.7h-3.63z"/>
<path fill="#98b2c8" d="M489.56 1098.7h3.63v55.7h-3.63zM1218.65 1098.7h3.63v55.7h-3.63zM1432.12 1098.7h3.63v55.7h-3.63zM1579.91 1098.7h3.63v55.7h-3.63zM1655.45 1098.7h3.63v55.7h-3.63zM1681.72 1098.7h3.63v55.7h-3.63zM1694.86 1098.7h3.63v55.7h-3.63zM1780.24 1098.7h3.63v55.7h-3.63z"/>
<path fill="#d3dee8" d="M499.41 1098.7h6.92v55.7h-6.92zM522.4 1098.7h3.63v55.7h-3.63zM581.52 1098.7h3.63v55.7h-3.63zM588.09 1098.7h3.63v55.7h-3.63zM601.22 1098.7h3.63v55.7h-3.63zM1123.41 1098.7h3.63v55.7h-3.63zM1146.4 1098.7h3.63v55.7h-3.63zM1156.25 1098.7h3.63v55.7h-3.63zM1208.8 1098.7h3.63v55.7h-3.63zM1254.78 1098.7h3.63v55.7h-3.63zM1310.61 1098.7h3.63v55.7h-3.63zM1323.74 1098.7h3.63v55.7h-3.63zM1418.98 1098.7h3.63v55.7h-3.63zM1435.41 1098.7h10.2v55.7h-10.2zM1455.11 1098.7h6.92v55.7h-6.92zM1625.89 1098.7h3.63v55.7h-3.63zM1662.01 1098.7h6.92v55.7h-6.92zM1671.87 1098.7h3.63v55.7h-3.63zM1793.38 1098.7h3.63v55.7h-3.63zM1809.8 1098.7h3.63v55.7h-3.63z"/>
<path fill="#6b7aa0" d="M505.98 1098.7h3.63v55.7h-3.63zM650.49 1098.7h3.63v55.7h-3.63zM900.08 1098.7h3.63v55.7h-3.63zM995.33 1098.7h3.63v55.7h-3.63zM1106.99 1098.7h3.63v55.7h-3.63zM1139.83 1098.7h3.63v55.7h-3.63zM1248.21 1098.7h3.63v55.7h-3.63zM1320.46 1098.7h3.63v55.7h-3.63zM1415.7 1098.7h3.63v55.7h-3.63zM1464.96 1098.7h3.63v55.7h-3.63zM1685 1098.7h3.63v55.7h-3.63zM1698.14 1098.7h3.63v55.7h-3.63zM1753.97 1098.7h3.63v55.7h-3.63zM1760.54 1098.7h3.63v55.7h-3.63zM1770.39 1098.7h3.63v55.7h-3.63z"/>
<path fill="#799bb8" d="M509.27 1098.7h3.63v55.7h-3.63zM992.04 1098.7h3.63v55.7h-3.63zM1215.37 1098.7h3.63v55.7h-3.63zM1261.34 1098.7h3.63v55.7h-3.63zM1336.88 1098.7h3.63v55.7h-3.63zM1392.71 1098.7h3.63v55.7h-3.63zM1409.13 1098.7h3.63v55.7h-3.63zM1776.96 1098.7h3.63v55.7h-3.63z"/>
<path fill="#5b85a8" d="M535.54 1098.7h6.92v55.7h-6.92zM1143.11 1098.7h3.63v55.7h-3.63zM1175.96 1098.7h3.63v55.7h-3.63zM1202.23 1098.7h3.63v55.7h-3.63zM1225.22 1098.7h6.92v55.7h-6.92zM1264.63 1098.7h3.63v55.7h-3.63zM1327.03 1098.7h10.2v55.7h-10.2zM1359.87 1098.7h3.63v55.7h-3.63zM1405.85 1098.7h3.63v55.7h-3.63zM1422.27 1098.7h6.92v55.7h-6.92zM1448.54 1098.7h3.63v55.7h-3.63zM1468.25 1098.7h10.2v55.7h-10.2zM1527.36 1098.7h3.63v55.7h-3.63zM1642.31 1098.7h3.63v55.7h-3.63zM1678.43 1098.7h3.63v55.7h-3.63zM1691.57 1098.7h3.63v55.7h-3.63zM1799.95 1098.7h3.63v55.7h-3.63z"/>
<path fill="#7c6f97" d="M860.67 1098.7h3.63v55.7h-3.63zM903.37 1098.7h3.63v55.7h-3.63zM998.61 1098.7h3.63v55.7h-3.63zM1047.87 1098.7h3.63v55.7h-3.63zM1235.07 1098.7h3.63v55.7h-3.63zM1251.49 1098.7h3.63v55.7h-3.63zM1353.3 1098.7h3.63v55.7h-3.63zM1428.84 1098.7h3.63v55.7h-3.63zM1747.4 1098.7h3.63v55.7h-3.63zM1796.67 1098.7h3.63v55.7h-3.63zM1806.52 1098.7h3.63v55.7h-3.63z"/>
<path fill="#973875" d="M906.65 1098.7h3.63v55.7h-3.63zM913.22 1098.7h3.63v55.7h-3.63zM923.07 1098.7h3.63v55.7h-3.63zM929.64 1098.7h3.63v55.7h-3.63zM936.21 1098.7h3.63v55.7h-3.63zM1005.18 1098.7h6.92v55.7h-6.92zM1015.03 1098.7h6.92v55.7h-6.92zM1028.17 1098.7h3.63v55.7h-3.63zM1038.02 1098.7h3.63v55.7h-3.63zM1054.44 1098.7h3.63v55.7h-3.63zM1162.82 1098.7h3.63v55.7h-3.63z"/>
<path fill="#9e1c64" d="M909.94 1098.7h3.63v55.7h-3.63zM916.5 1098.7h3.63v55.7h-3.63zM926.36 1098.7h3.63v55.7h-3.63zM932.93 1098.7h3.63v55.7h-3.63zM946.06 1098.7h3.63v55.7h-3.63zM965.77 1098.7h3.63v55.7h-3.63zM1001.89 1098.7h3.63v55.7h-3.63zM1011.75 1098.7h3.63v55.7h-3.63zM1021.6 1098.7h6.92v55.7h-6.92zM1031.45 1098.7h6.92v55.7h-6.92zM1041.3 1098.7h6.92v55.7h-6.92zM1051.16 1098.7h3.63v55.7h-3.63z"/>
<path fill="#a60053" d="M919.79 1098.7h3.63v55.7h-3.63zM939.49 1098.7h6.92v55.7h-6.92zM949.35 1098.7h16.77v55.7h-16.77z"/>
<path fill="#8e5687" d="M1238.35 1098.7h10.2v55.7h-10.2zM1461.68 1098.7h3.63v55.7h-3.63z"/>
<path fill="#f9fbfc" d="M328.64 1154.1h3.63v55.5h-3.63zM338.49 1154.1h3.63v55.5h-3.63zM368.05 1154.1h3.63v55.5h-3.63zM400.89 1154.1h3.63v55.5h-3.63zM430.45 1154.1h3.63v55.5h-3.63zM476.42 1154.1h3.63v55.5h-3.63zM863.96 1154.1h6.92v55.5h-6.92zM877.09 1154.1h3.63v55.5h-3.63zM1057.72 1154.1h3.63v55.5h-3.63zM1166.1 1154.1h6.92v55.5h-6.92zM1290.9 1154.1h10.2v55.5h-10.2zM1346.73 1154.1h3.63v55.5h-3.63zM1573.34 1154.1h3.63v55.5h-3.63zM1596.33 1154.1h3.63v55.5h-3.63zM1783.53 1154.1h3.63v55.5h-3.63zM1816.37 1154.1h6.92v55.5h-6.92z"/>
<path fill="#ebf0f5" d="M364.76 1154.1h3.63v55.5h-3.63zM519.12 1154.1h3.63v55.5h-3.63zM1149.68 1154.1h3.63v55.5h-3.63zM1356.58 1154.1h3.63v55.5h-3.63zM1399.28 1154.1h3.63v55.5h-3.63zM1566.77 1154.1h3.63v55.5h-3.63zM1589.76 1154.1h3.63v55.5h-3.63zM1635.74 1154.1h3.63v55.5h-3.63zM1757.25 1154.1h3.63v55.5h-3.63z"/>
<path fill="#98b2c8" d="M479.71 1154.1h3.63v55.5h-3.63zM486.28 1154.1h3.63v55.5h-3.63zM647.2 1154.1h3.63v55.5h-3.63zM653.77 1154.1h6.92v55.5h-6.92zM1221.93 1154.1h3.63v55.5h-3.63zM1261.34 1154.1h3.63v55.5h-3.63zM1313.89 1154.1h3.63v55.5h-3.63zM1323.74 1154.1h3.63v55.5h-3.63zM1336.88 1154.1h3.63v55.5h-3.63zM1418.98 1154.1h3.63v55.5h-3.63zM1451.83 1154.1h3.63v55.5h-3.63zM1458.39 1154.1h3.63v55.5h-3.63zM1530.65 1154.1h3.63v55.5h-3.63zM1668.58 1154.1h3.63v55.5h-3.63zM1750.69 1154.1h3.63v55.5h-3.63zM1790.1 1154.1h3.63v55.5h-3.63zM1799.95 1154.1h3.63v55.5h-3.63z"/>
<path fill="#b5c8d8" d="M482.99 1154.1h3.63v55.5h-3.63zM611.08 1154.1h6.92v55.5h-6.92zM1120.12 1154.1h6.92v55.5h-6.92zM1208.8 1154.1h3.63v55.5h-3.63zM1254.78 1154.1h3.63v55.5h-3.63zM1455.11 1154.1h3.63v55.5h-3.63zM1662.01 1154.1h3.63v55.5h-3.63z"/>
<path fill="#5b85a8" d="M489.56 1154.1h3.63v55.5h-3.63zM522.4 1154.1h3.63v55.5h-3.63zM597.94 1154.1h3.63v55.5h-3.63zM1126.69 1154.1h3.63v55.5h-3.63zM1215.37 1154.1h6.92v55.5h-6.92zM1307.32 1154.1h3.63v55.5h-3.63zM1327.03 1154.1h3.63v55.5h-3.63zM1392.71 1154.1h3.63v55.5h-3.63zM1409.13 1154.1h3.63v55.5h-3.63zM1468.25 1154.1h10.2v55.5h-10.2zM1527.36 1154.1h3.63v55.5h-3.63zM1533.93 1154.1h3.63v55.5h-3.63zM1553.64 1154.1h10.2v55.5h-10.2zM1579.91 1154.1h3.63v55.5h-3.63zM1586.48 1154.1h3.63v55.5h-3.63zM1652.16 1154.1h3.63v55.5h-3.63zM1658.73 1154.1h3.63v55.5h-3.63zM1678.43 1154.1h6.92v55.5h-6.92zM1773.68 1154.1h3.63v55.5h-3.63zM1780.24 1154.1h3.63v55.5h-3.63z"/>
<path fill="#799bb8" d="M499.41 1154.1h6.92v55.5h-6.92zM581.52 1154.1h3.63v55.5h-3.63zM588.09 1154.1h3.63v55.5h-3.63zM601.22 1154.1h3.63v55.5h-3.63zM624.21 1154.1h3.63v55.5h-3.63zM985.47 1154.1h6.92v55.5h-6.92zM1264.63 1154.1h3.63v55.5h-3.63zM1310.61 1154.1h3.63v55.5h-3.63zM1317.17 1154.1h3.63v55.5h-3.63zM1438.69 1154.1h6.92v55.5h-6.92zM1550.35 1154.1h3.63v55.5h-3.63zM1776.96 1154.1h3.63v55.5h-3.63zM1793.38 1154.1h3.63v55.5h-3.63z"/>
<path fill="#7c6f97" d="M505.98 1154.1h3.63v55.5h-3.63zM1139.83 1154.1h3.63v55.5h-3.63zM1320.46 1154.1h3.63v55.5h-3.63zM1415.7 1154.1h3.63v55.5h-3.63zM1753.97 1154.1h3.63v55.5h-3.63zM1770.39 1154.1h3.63v55.5h-3.63zM1806.52 1154.1h3.63v55.5h-3.63z"/>
<path fill="#6b7aa0" d="M509.27 1154.1h3.63v55.5h-3.63zM535.54 1154.1h6.92v55.5h-6.92zM617.64 1154.1h3.63v55.5h-3.63zM992.04 1154.1h3.63v55.5h-3.63zM1106.99 1154.1h3.63v55.5h-3.63zM1143.11 1154.1h3.63v55.5h-3.63zM1175.96 1154.1h3.63v55.5h-3.63zM1202.23 1154.1h3.63v55.5h-3.63zM1225.22 1154.1h6.92v55.5h-6.92zM1330.31 1154.1h6.92v55.5h-6.92zM1359.87 1154.1h3.63v55.5h-3.63zM1405.85 1154.1h3.63v55.5h-3.63zM1422.27 1154.1h3.63v55.5h-3.63zM1428.84 1154.1h6.92v55.5h-6.92zM1448.54 1154.1h3.63v55.5h-3.63zM1625.89 1154.1h3.63v55.5h-3.63zM1642.31 1154.1h3.63v55.5h-3.63zM1655.45 1154.1h3.63v55.5h-3.63zM1691.57 1154.1h6.92v55.5h-6.92zM1760.54 1154.1h3.63v55.5h-3.63z"/>
<path fill="#d3dee8" d="M594.66 1154.1h3.63v55.5h-3.63zM604.51 1154.1h3.63v55.5h-3.63zM630.78 1154.1h10.2v55.5h-10.2zM1146.4 1154.1h3.63v55.5h-3.63zM1156.25 1154.1h3.63v55.5h-3.63zM1258.06 1154.1h3.63v55.5h-3.63zM1340.16 1154.1h6.92v55.5h-6.92zM1593.05 1154.1h3.63v55.5h-3.63zM1665.3 1154.1h3.63v55.5h-3.63zM1671.87 1154.1h3.63v55.5h-3.63zM1803.23 1154.1h3.63v55.5h-3.63zM1809.8 1154.1h3.63v55.5h-3.63z"/>
<path fill="#8e5687" d="M650.49 1154.1h3.63v55.5h-3.63zM860.67 1154.1h3.63v55.5h-3.63zM995.33 1154.1h3.63v55.5h-3.63zM1235.07 1154.1h3.63v55.5h-3.63zM1353.3 1154.1h3.63v55.5h-3.63zM1425.55 1154.1h3.63v55.5h-3.63zM1464.96 1154.1h3.63v55.5h-3.63zM1685 1154.1h3.63v55.5h-3.63zM1698.14 1154.1h3.63v55.5h-3.63zM1747.4 1154.1h3.63v55.5h-3.63zM1796.67 1154.1h3.63v55.5h-3.63z"/>
<path fill="#973875" d="M900.08 1154.1h6.92v55.5h-6.92zM929.64 1154.1h3.63v55.5h-3.63zM998.61 1154.1h3.63v55.5h-3.63zM1238.35 1154.1h10.2v55.5h-10.2zM1251.49 1154.1h3.63v55.5h-3.63zM1461.68 1154.1h3.63v55.5h-3.63z"/>
<path fill="#9e1c64" d="M906.65 1154.1h3.63v55.5h-3.63zM923.07 1154.1h3.63v55.5h-3.63zM932.93 1154.1h6.92v55.5h-6.92zM1005.18 1154.1h6.92v55.5h-6.92zM1015.03 1154.1h3.63v55.5h-3.63zM1024.88 1154.1h3.63v55.5h-3.63zM1031.45 1154.1h3.63v55.5h-3.63zM1041.3 1154.1h3.63v55.5h-3.63zM1162.82 1154.1h3.63v55.5h-3.63zM1248.21 1154.1h3.63v55.5h-3.63z"/>
<path fill="#a60053" d="M909.94 1154.1h13.49v55.5h-13.49zM926.36 1154.1h3.63v55.5h-3.63zM939.49 1154.1h29.91v55.5h-29.91zM1001.89 1154.1h3.63v55.5h-3.63zM1011.75 1154.1h3.63v55.5h-3.63zM1018.31 1154.1h6.92v55.5h-6.92zM1028.17 1154.1h3.63v55.5h-3.63zM1034.74 1154.1h6.92v55.5h-6.92zM1044.59 1154.1h13.49v55.5h-13.49z"/>
<path fill="#ebf0f5" d="M348.34 1209.3h3.63v55.6h-3.63zM358.19 1209.3h3.63v55.6h-3.63zM377.9 1209.3h6.92v55.6h-6.92zM509.27 1209.3h3.63v55.6h-3.63zM528.97 1209.3h6.92v55.6h-6.92zM624.21 1209.3h3.63v55.6h-3.63zM630.78 1209.3h6.92v55.6h-6.92zM647.2 1209.3h3.63v55.6h-3.63zM988.76 1209.3h3.63v55.6h-3.63zM1126.69 1209.3h3.63v55.6h-3.63zM1146.4 1209.3h3.63v55.6h-3.63zM1156.25 1209.3h3.63v55.6h-3.63zM1208.8 1209.3h3.63v55.6h-3.63zM1218.65 1209.3h3.63v55.6h-3.63zM1327.03 1209.3h3.63v55.6h-3.63zM1333.6 1209.3h3.63v55.6h-3.63zM1340.16 1209.3h3.63v55.6h-3.63zM1409.13 1209.3h3.63v55.6h-3.63zM1455.11 1209.3h6.92v55.6h-6.92zM1533.93 1209.3h3.63v55.6h-3.63zM1550.35 1209.3h13.49v55.6h-13.49zM1579.91 1209.3h3.63v55.6h-3.63zM1586.48 1209.3h3.63v55.6h-3.63zM1655.45 1209.3h3.63v55.6h-3.63zM1668.58 1209.3h6.92v55.6h-6.92zM1694.86 1209.3h6.92v55.6h-6.92zM1780.24 1209.3h3.63v55.6h-3.63zM1799.95 1209.3h3.63v55.6h-3.63zM1865.63 1209.3h3.63v55.6h-3.63z"/>
<path fill="#b5c8d8" d="M364.76 1209.3h3.63v55.6h-3.63zM505.98 1209.3h3.63v55.6h-3.63zM1225.22 1209.3h6.92v55.6h-6.92zM1248.21 1209.3h3.63v55.6h-3.63zM1264.63 1209.3h3.63v55.6h-3.63zM1415.7 1209.3h3.63v55.6h-3.63zM1428.84 1209.3h3.63v55.6h-3.63zM1441.97 1209.3h3.63v55.6h-3.63zM1471.53 1209.3h6.92v55.6h-6.92zM1527.36 1209.3h3.63v55.6h-3.63zM1642.31 1209.3h3.63v55.6h-3.63zM1691.57 1209.3h3.63v55.6h-3.63zM1760.54 1209.3h3.63v55.6h-3.63z"/>
<path fill="#d3dee8" d="M371.33 1209.3h3.63v55.6h-3.63zM489.56 1209.3h3.63v55.6h-3.63zM535.54 1209.3h3.63v55.6h-3.63zM597.94 1209.3h3.63v55.6h-3.63zM617.64 1209.3h3.63v55.6h-3.63zM992.04 1209.3h3.63v55.6h-3.63zM1143.11 1209.3h3.63v55.6h-3.63zM1175.96 1209.3h3.63v55.6h-3.63zM1202.23 1209.3h3.63v55.6h-3.63zM1215.37 1209.3h3.63v55.6h-3.63zM1254.78 1209.3h3.63v55.6h-3.63zM1261.34 1209.3h3.63v55.6h-3.63zM1330.31 1209.3h3.63v55.6h-3.63zM1359.87 1209.3h3.63v55.6h-3.63zM1392.71 1209.3h3.63v55.6h-3.63zM1432.12 1209.3h3.63v55.6h-3.63zM1438.69 1209.3h3.63v55.6h-3.63zM1451.83 1209.3h3.63v55.6h-3.63zM1652.16 1209.3h3.63v55.6h-3.63zM1678.43 1209.3h6.92v55.6h-6.92zM1776.96 1209.3h3.63v55.6h-3.63z"/>
<path fill="#f9fbfc" d="M443.58 1209.3h3.63v55.6h-3.63zM456.72 1209.3h3.63v55.6h-3.63zM479.71 1209.3h6.92v55.6h-6.92zM499.41 1209.3h6.92v55.6h-6.92zM519.12 1209.3h6.92v55.6h-6.92zM538.82 1209.3h3.63v55.6h-3.63zM545.39 1209.3h3.63v55.6h-3.63zM581.52 1209.3h3.63v55.6h-3.63zM588.09 1209.3h3.63v55.6h-3.63zM601.22 1209.3h6.92v55.6h-6.92zM611.08 1209.3h6.92v55.6h-6.92zM653.77 1209.3h3.63v55.6h-3.63zM778.57 1209.3h3.63v55.6h-3.63zM1064.29 1209.3h3.63v55.6h-3.63zM1120.12 1209.3h3.63v55.6h-3.63zM1136.54 1209.3h3.63v55.6h-3.63zM1149.68 1209.3h3.63v55.6h-3.63zM1258.06 1209.3h3.63v55.6h-3.63zM1307.32 1209.3h13.49v55.6h-13.49zM1323.74 1209.3h3.63v55.6h-3.63zM1336.88 1209.3h3.63v55.6h-3.63zM1343.45 1209.3h3.63v55.6h-3.63zM1399.28 1209.3h3.63v55.6h-3.63zM1418.98 1209.3h3.63v55.6h-3.63zM1507.66 1209.3h3.63v55.6h-3.63zM1540.5 1209.3h3.63v55.6h-3.63zM1566.77 1209.3h3.63v55.6h-3.63zM1589.76 1209.3h3.63v55.6h-3.63zM1596.33 1209.3h3.63v55.6h-3.63zM1625.89 1209.3h3.63v55.6h-3.63zM1658.73 1209.3h3.63v55.6h-3.63zM1790.1 1209.3h3.63v55.6h-3.63z"/>
<path fill="#98b2c8" d="M650.49 1209.3h3.63v55.6h-3.63zM1106.99 1209.3h3.63v55.6h-3.63zM1238.35 1209.3h3.63v55.6h-3.63zM1405.85 1209.3h3.63v55.6h-3.63zM1422.27 1209.3h3.63v55.6h-3.63zM1448.54 1209.3h3.63v55.6h-3.63zM1468.25 1209.3h3.63v55.6h-3.63z"/>
<path fill="#799bb8" d="M860.67 1209.3h3.63v55.6h-3.63zM995.33 1209.3h3.63v55.6h-3.63zM1139.83 1209.3h3.63v55.6h-3.63zM1235.07 1209.3h3.63v55.6h-3.63zM1770.39 1209.3h3.63v55.6h-3.63z"/>
<path fill="#5b85a8" d="M900.08 1209.3h3.63v55.6h-3.63zM936.21 1209.3h3.63v55.6h-3.63zM965.77 1209.3h3.63v55.6h-3.63zM998.61 1209.3h3.63v55.6h-3.63zM1047.87 1209.3h3.63v55.6h-3.63zM1320.46 1209.3h3.63v55.6h-3.63zM1353.3 1209.3h3.63v55.6h-3.63zM1425.55 1209.3h3.63v55.6h-3.63zM1685 1209.3h3.63v55.6h-3.63zM1747.4 1209.3h3.63v55.6h-3.63zM1753.97 1209.3h3.63v55.6h-3.63zM1796.67 1209.3h3.63v55.6h-3.63zM1806.52 1209.3h3.63v55.6h-3.63z"/>
<path fill="#6b7aa0" d="M903.37 1209.3h3.63v55.6h-3.63zM1018.31 1209.3h6.92v55.6h-6.92zM1038.02 1209.3h3.63v55.6h-3.63zM1241.64 1209.3h6.92v55.6h-6.92zM1251.49 1209.3h3.63v55.6h-3.63zM1461.68 1209.3h6.92v55.6h-6.92z"/>
<path fill="#7c6f97" d="M906.65 1209.3h3.63v55.6h-3.63zM913.22 1209.3h3.63v55.6h-3.63zM919.79 1209.3h3.63v55.6h-3.63zM926.36 1209.3h10.2v55.6h-10.2zM946.06 1209.3h3.63v55.6h-3.63zM1005.18 1209.3h3.63v55.6h-3.63zM1011.75 1209.3h3.63v55.6h-3.63zM1024.88 1209.3h3.63v55.6h-3.63zM1031.45 1209.3h3.63v55.6h-3.63zM1041.3 1209.3h3.63v55.6h-3.63zM1051.16 1209.3h6.92v55.6h-6.92zM1162.82 1209.3h3.63v55.6h-3.63z"/>
<path fill="#8e5687" d="M909.94 1209.3h3.63v55.6h-3.63zM916.5 1209.3h3.63v55.6h-3.63zM923.07 1209.3h3.63v55.6h-3.63zM939.49 1209.3h3.63v55.6h-3.63zM949.35 1209.3h6.92v55.6h-6.92zM959.2 1209.3h6.92v55.6h-6.92zM1001.89 1209.3h3.63v55.6h-3.63zM1008.46 1209.3h3.63v55.6h-3.63zM1015.03 1209.3h3.63v55.6h-3.63zM1028.17 1209.3h3.63v55.6h-3.63zM1044.59 1209.3h3.63v55.6h-3.63z"/>
<path fill="#973875" d="M942.78 1209.3h3.63v55.6h-3.63zM955.92 1209.3h3.63v55.6h-3.63zM1034.74 1209.3h3.63v55.6h-3.63z"/>
<rect x="315.5" y="834.3" width="1681.5" height="141.4" fill="#fff" stroke="#000" stroke-width="1.7"/>
<line x1="342" y1="834.3" x2="342" y2="975.7" stroke="#000" stroke-width="1.7"/>
<line x1="382.4" y1="834.3" x2="382.4" y2="975.7" stroke="#000" stroke-width="1.7"/>
<line x1="409.3" y1="834.3" x2="409.3" y2="975.7" stroke="#000" stroke-width="1.7"/>
<line x1="441.2" y1="834.3" x2="441.2" y2="975.7" stroke="#000" stroke-width="1.7"/>
<line x1="564" y1="834.3" x2="564" y2="975.7" stroke="#000" stroke-width="1.7"/>
<line x1="678.7" y1="834.3" x2="678.7" y2="975.7" stroke="#000" stroke-width="1.7"/>
<line x1="884.1" y1="834.3" x2="884.1" y2="975.7" stroke="#000" stroke-width="1.7"/>
<line x1="983" y1="834.3" x2="983" y2="975.7" stroke="#000" stroke-width="1.7"/>
<line x1="1074" y1="834.3" x2="1074" y2="975.7" stroke="#000" stroke-width="1.7"/>
<line x1="1183" y1="834.3" x2="1183" y2="975.7" stroke="#000" stroke-width="1.7"/>
<line x1="1286" y1="834.3" x2="1286" y2="975.7" stroke="#000" stroke-width="1.7"/>
<line x1="1384" y1="834.3" x2="1384" y2="975.7" stroke="#000" stroke-width="1.7"/>
<line x1="1495" y1="834.3" x2="1495" y2="975.7" stroke="#000" stroke-width="1.7"/>
<line x1="1620" y1="834.3" x2="1620" y2="975.7" stroke="#000" stroke-width="1.7"/>
<line x1="1720" y1="834.3" x2="1720" y2="975.7" stroke="#000" stroke-width="1.7"/>
<line x1="1842" y1="834.3" x2="1842" y2="975.7" stroke="#000" stroke-width="1.7"/>
<line x1="1884" y1="834.3" x2="1884" y2="975.7" stroke="#000" stroke-width="1.7"/>
<line x1="1908" y1="834.3" x2="1908" y2="975.7" stroke="#000" stroke-width="1.7"/>
<line x1="1969" y1="834.3" x2="1969" y2="975.7" stroke="#000" stroke-width="1.7"/>
<text transform="translate(336.95 905) rotate(-90)" font-size="23.5" font-family='"Liberation Sans", Arial, sans-serif' text-anchor="middle">AHSG</text>
<text transform="translate(370.4 905) rotate(-90)" font-size="23.5" font-family='"Liberation Sans", Arial, sans-serif' text-anchor="middle">ALB</text>
<text transform="translate(404.05 905) rotate(-90)" font-size="23.5" font-family='"Liberation Sans", Arial, sans-serif' text-anchor="middle">BGN</text>
<text transform="translate(433.45 905) rotate(-90)" font-size="23.5" font-family='"Liberation Sans", Arial, sans-serif' text-anchor="middle">CHAD</text>
<text transform="translate(510.8 905) rotate(-90)" font-size="23.5" font-family='"Liberation Sans", Arial, sans-serif' text-anchor="middle">COL11A1</text>
<text transform="translate(629.55 905) rotate(-90)" font-size="23.5" font-family='"Liberation Sans", Arial, sans-serif' text-anchor="middle">COL11A2</text>
<text transform="translate(789.6 905) rotate(-90)" font-size="23.5" font-family='"Liberation Sans", Arial, sans-serif' text-anchor="middle">COL12A1</text>
<text transform="translate(941.75 905) rotate(-90)" font-size="23.5" font-family='"Liberation Sans", Arial, sans-serif' text-anchor="middle">COL1A1</text>
<text transform="translate(1036.7 905) rotate(-90)" font-size="23.5" font-family='"Liberation Sans", Arial, sans-serif' text-anchor="middle">COL1A2</text>
<text transform="translate(1136.7 905) rotate(-90)" font-size="23.5" font-family='"Liberation Sans", Arial, sans-serif' text-anchor="middle">COL22A1</text>
<text transform="translate(1242.7 905) rotate(-90)" font-size="23.5" font-family='"Liberation Sans", Arial, sans-serif' text-anchor="middle">COL2A1</text>
<text transform="translate(1343.2 905) rotate(-90)" font-size="23.5" font-family='"Liberation Sans", Arial, sans-serif' text-anchor="middle">COL3A1</text>
<text transform="translate(1447.7 905) rotate(-90)" font-size="23.5" font-family='"Liberation Sans", Arial, sans-serif' text-anchor="middle">COL4A4</text>
<text transform="translate(1565.7 905) rotate(-90)" font-size="23.5" font-family='"Liberation Sans", Arial, sans-serif' text-anchor="middle">COL5A1</text>
<text transform="translate(1678.2 905) rotate(-90)" font-size="23.5" font-family='"Liberation Sans", Arial, sans-serif' text-anchor="middle">COL5A2</text>
<text transform="translate(1789.2 905) rotate(-90)" font-size="23.5" font-family='"Liberation Sans", Arial, sans-serif' text-anchor="middle">COL5A3</text>
<text transform="translate(1871.2 905) rotate(-90)" font-size="23.5" font-family='"Liberation Sans", Arial, sans-serif' text-anchor="middle">F2</text>
<text transform="translate(1904.2 905) rotate(-90)" font-size="23.5" font-family='"Liberation Sans", Arial, sans-serif' text-anchor="middle">LUM</text>
<text transform="translate(1946.7 905) rotate(-90)" font-size="23.5" font-family='"Liberation Sans", Arial, sans-serif' text-anchor="middle">POSTN</text>
<text transform="translate(1991.2 905) rotate(-90)" font-size="23.5" font-family='"Liberation Sans", Arial, sans-serif' text-anchor="middle">SERPINF1</text>
<path d="M315.5 975.7V1271.8H1997V975.7" fill="none" stroke="#000" stroke-width="1.9"/>
<line x1="315.5" y1="1271.8" x2="315.5" y2="1280.4" stroke="#000" stroke-width="1.8"/>
<text x="315.5" y="1306.8" font-size="27.6" font-family='"Liberation Sans", Arial, sans-serif' text-anchor="middle">0</text>
<line x1="973.6" y1="1271.8" x2="973.6" y2="1280.4" stroke="#000" stroke-width="1.8"/>
<text x="973.6" y="1306.8" font-size="27.6" font-family='"Liberation Sans", Arial, sans-serif' text-anchor="middle">10000</text>
<line x1="1631.3" y1="1271.8" x2="1631.3" y2="1280.4" stroke="#000" stroke-width="1.8"/>
<text x="1631.3" y="1306.8" font-size="27.6" font-family='"Liberation Sans", Arial, sans-serif' text-anchor="middle">20000</text>
<text x="1151.8" y="1340.3" font-size="31.7" font-family='"Liberation Sans", Arial, sans-serif' text-anchor="middle">Global Site</text>
</svg></body></html>
